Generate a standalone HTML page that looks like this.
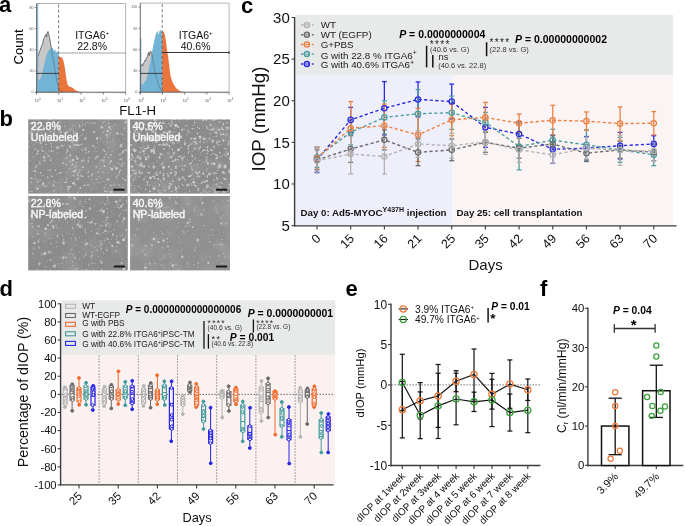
<!DOCTYPE html>
<html><head><meta charset="utf-8"><title>Figure</title>
<style>html,body{margin:0;padding:0;background:#fff;width:685px;height:526px;overflow:hidden}svg{display:block;font-family:"Liberation Sans", sans-serif;will-change:transform}</style>
</head><body><svg width="685" height="526" viewBox="0 0 685 526" font-family='"Liberation Sans", sans-serif'><text x="-1" y="12.3" font-size="22" font-weight="bold" fill="#000">a</text>
<text x="-0.4" y="126" font-size="22" font-weight="bold" fill="#000">b</text>
<text x="241" y="12.5" font-size="22" font-weight="bold" fill="#000">c</text>
<text x="-0.5" y="295.7" font-size="22" font-weight="bold" fill="#000">d</text>
<text x="345.5" y="296.3" font-size="22" font-weight="bold" fill="#000">e</text>
<text x="540" y="296" font-size="22" font-weight="bold" fill="#000">f</text>
<line x1="36.6" y1="3.5" x2="125.6" y2="3.5" stroke="#b5b5b5" stroke-width="1"/>
<line x1="125.6" y1="3.5" x2="125.6" y2="92.2" stroke="#b5b5b5" stroke-width="1"/>
<path d="M37.6 92 L37.6 56 L38.5 55.5 L39.2 52 L40 50.5 L40.8 48 L41.5 46.5 L42.2 44.5 L43 42.5 L43.7 38.5 L44.5 37.5 L45.2 36 L46 34.5 L46.5 37 L47.2 33 L48 31.5 L48.5 34 L49.2 36 L50 40 L50.8 45 L52 52 L53 58 L54 64 L55 70 L56 76 L57 82 L58 86 L59 88.5 L60.5 90.5 L62.5 92 Z" fill="#c8c8c8" stroke="#555" stroke-width="0.5"/>
<path d="M37.2 92 L37.2 3.8 L38.2 3.8 L38.3 81.3 L39.5 80 L40.5 78 L41.5 76 L42.5 72 L43.5 68 L44.5 63 L45.5 59 L46.5 55 L47.5 52.5 L48.3 50 L49 51 L49.7 48.5 L50.4 50 L51.2 47 L52 48.5 L52.8 47.5 L53.5 51 L54.2 49 L55 52 L55.8 50 L56.6 52.5 L57.4 51 L58.2 53.5 L58.7 52 L58.7 92 Z" fill="#72b3d6"/>
<path d="M58.7 92 L58.7 56.3 L60.5 57 L62 57.5 L63 59.5 L64 63 L65 69 L66.2 78 L67.5 84.5 L69 86.5 L71 87 L73 88 L75 90 L78 91.5 L81 92 Z" fill="#e9743c"/>
<path d="M37.6 56 L38.5 55.5 L39.2 52 L40 50.5 L40.8 48 L41.5 46.5 L42.2 44.5 L43 42.5 L43.7 38.5 L44.5 37.5 L45.2 36 L46 34.5 L46.5 37 L47.2 33 L48 31.5 L48.5 34 L49.2 36 L50 40 L50.8 45 L52 52 L53 58 L54 64 L55 70 L56 76 L57 82 L58 86 L59 88.5 L60.5 90.5 L62.5 92" fill="none" stroke="#444" stroke-width="0.5" opacity="0.75"/>
<line x1="36.6" y1="3.5" x2="36.6" y2="93.7" stroke="#555" stroke-width="0.9"/>
<line x1="35.6" y1="92.2" x2="125.6" y2="92.2" stroke="#555" stroke-width="0.9"/>
<line x1="34.6" y1="92.2" x2="36.6" y2="92.2" stroke="#555" stroke-width="0.6"/>
<text x="33.6" y="93.4" font-size="3.6" text-anchor="end" fill="#555">0</text>
<line x1="34.6" y1="71.03" x2="36.6" y2="71.03" stroke="#555" stroke-width="0.6"/>
<text x="33.6" y="72.23" font-size="3.6" text-anchor="end" fill="#555">20</text>
<line x1="34.6" y1="49.85" x2="36.6" y2="49.85" stroke="#555" stroke-width="0.6"/>
<text x="33.6" y="51.05" font-size="3.6" text-anchor="end" fill="#555">40</text>
<line x1="34.6" y1="28.67" x2="36.6" y2="28.67" stroke="#555" stroke-width="0.6"/>
<text x="33.6" y="29.87" font-size="3.6" text-anchor="end" fill="#555">60</text>
<line x1="34.6" y1="7.5" x2="36.6" y2="7.5" stroke="#555" stroke-width="0.6"/>
<text x="33.6" y="8.7" font-size="3.6" text-anchor="end" fill="#555">80</text>
<line x1="36.6" y1="92.2" x2="36.6" y2="94.7" stroke="#555" stroke-width="0.7"/>
<text x="37.6" y="102.4" font-size="3.8" text-anchor="middle" fill="#555">10<tspan dy="-2" font-size="3">0</tspan></text>
<line x1="43.3" y1="92.2" x2="43.3" y2="93.4" stroke="#777" stroke-width="0.4"/>
<line x1="47.21" y1="92.2" x2="47.21" y2="93.4" stroke="#777" stroke-width="0.4"/>
<line x1="49.99" y1="92.2" x2="49.99" y2="93.4" stroke="#777" stroke-width="0.4"/>
<line x1="52.15" y1="92.2" x2="52.15" y2="93.4" stroke="#777" stroke-width="0.4"/>
<line x1="53.91" y1="92.2" x2="53.91" y2="93.4" stroke="#777" stroke-width="0.4"/>
<line x1="55.4" y1="92.2" x2="55.4" y2="93.4" stroke="#777" stroke-width="0.4"/>
<line x1="56.69" y1="92.2" x2="56.69" y2="93.4" stroke="#777" stroke-width="0.4"/>
<line x1="57.83" y1="92.2" x2="57.83" y2="93.4" stroke="#777" stroke-width="0.4"/>
<line x1="58.85" y1="92.2" x2="58.85" y2="94.7" stroke="#555" stroke-width="0.7"/>
<text x="59.85" y="102.4" font-size="3.8" text-anchor="middle" fill="#555">10<tspan dy="-2" font-size="3">1</tspan></text>
<line x1="65.55" y1="92.2" x2="65.55" y2="93.4" stroke="#777" stroke-width="0.4"/>
<line x1="69.46" y1="92.2" x2="69.46" y2="93.4" stroke="#777" stroke-width="0.4"/>
<line x1="72.24" y1="92.2" x2="72.24" y2="93.4" stroke="#777" stroke-width="0.4"/>
<line x1="74.4" y1="92.2" x2="74.4" y2="93.4" stroke="#777" stroke-width="0.4"/>
<line x1="76.16" y1="92.2" x2="76.16" y2="93.4" stroke="#777" stroke-width="0.4"/>
<line x1="77.65" y1="92.2" x2="77.65" y2="93.4" stroke="#777" stroke-width="0.4"/>
<line x1="78.94" y1="92.2" x2="78.94" y2="93.4" stroke="#777" stroke-width="0.4"/>
<line x1="80.08" y1="92.2" x2="80.08" y2="93.4" stroke="#777" stroke-width="0.4"/>
<line x1="81.1" y1="92.2" x2="81.1" y2="94.7" stroke="#555" stroke-width="0.7"/>
<text x="82.1" y="102.4" font-size="3.8" text-anchor="middle" fill="#555">10<tspan dy="-2" font-size="3">2</tspan></text>
<line x1="87.8" y1="92.2" x2="87.8" y2="93.4" stroke="#777" stroke-width="0.4"/>
<line x1="91.71" y1="92.2" x2="91.71" y2="93.4" stroke="#777" stroke-width="0.4"/>
<line x1="94.49" y1="92.2" x2="94.49" y2="93.4" stroke="#777" stroke-width="0.4"/>
<line x1="96.65" y1="92.2" x2="96.65" y2="93.4" stroke="#777" stroke-width="0.4"/>
<line x1="98.41" y1="92.2" x2="98.41" y2="93.4" stroke="#777" stroke-width="0.4"/>
<line x1="99.9" y1="92.2" x2="99.9" y2="93.4" stroke="#777" stroke-width="0.4"/>
<line x1="101.19" y1="92.2" x2="101.19" y2="93.4" stroke="#777" stroke-width="0.4"/>
<line x1="102.33" y1="92.2" x2="102.33" y2="93.4" stroke="#777" stroke-width="0.4"/>
<line x1="103.35" y1="92.2" x2="103.35" y2="94.7" stroke="#555" stroke-width="0.7"/>
<text x="104.35" y="102.4" font-size="3.8" text-anchor="middle" fill="#555">10<tspan dy="-2" font-size="3">3</tspan></text>
<line x1="110.05" y1="92.2" x2="110.05" y2="93.4" stroke="#777" stroke-width="0.4"/>
<line x1="113.96" y1="92.2" x2="113.96" y2="93.4" stroke="#777" stroke-width="0.4"/>
<line x1="116.74" y1="92.2" x2="116.74" y2="93.4" stroke="#777" stroke-width="0.4"/>
<line x1="118.9" y1="92.2" x2="118.9" y2="93.4" stroke="#777" stroke-width="0.4"/>
<line x1="120.66" y1="92.2" x2="120.66" y2="93.4" stroke="#777" stroke-width="0.4"/>
<line x1="122.15" y1="92.2" x2="122.15" y2="93.4" stroke="#777" stroke-width="0.4"/>
<line x1="123.44" y1="92.2" x2="123.44" y2="93.4" stroke="#777" stroke-width="0.4"/>
<line x1="124.58" y1="92.2" x2="124.58" y2="93.4" stroke="#777" stroke-width="0.4"/>
<line x1="125.6" y1="92.2" x2="125.6" y2="94.7" stroke="#555" stroke-width="0.7"/>
<text x="126.6" y="102.4" font-size="3.8" text-anchor="middle" fill="#555">10<tspan dy="-2" font-size="3">4</tspan></text>
<line x1="58.6" y1="4.5" x2="58.6" y2="92.2" stroke="#555" stroke-width="0.8" stroke-dasharray="3 2.2"/>
<line x1="58.6" y1="53" x2="125.6" y2="53" stroke="#a3a3a3" stroke-width="1.2"/>
<line x1="125.6" y1="51.5" x2="125.6" y2="54.5" stroke="#a3a3a3" stroke-width="0.9"/>
<line x1="36.6" y1="73.4" x2="58.6" y2="73.4" stroke="#333" stroke-width="0.9"/>
<text x="92.1" y="39.4" font-size="10.5" text-anchor="middle" fill="#111">ITGA6<tspan dy="-4" font-size="6">+</tspan></text>
<text x="92.1" y="49.6" font-size="10.5" text-anchor="middle" fill="#111">22.8%</text>
<text x="23.3" y="47" font-size="13.2" text-anchor="middle" fill="#000" transform="rotate(-90 23.3 47)">Count</text>
<line x1="140.3" y1="3.1" x2="229.1" y2="3.1" stroke="#b5b5b5" stroke-width="1"/>
<line x1="229.1" y1="3.1" x2="229.1" y2="92.2" stroke="#b5b5b5" stroke-width="1"/>
<path d="M140.5 92 L140.5 67 L141.3 66 L142 64.5 L142.8 65.5 L143.5 63 L144.3 62.5 L145 60 L145.8 60.5 L146.5 58 L147.3 57 L148 54 L148.6 52.5 L149.3 55.5 L150 52 L150.8 51 L151.5 53.5 L152.2 55 L153 61 L154 67 L155 72 L156.5 78 L158 83 L159.5 87 L161 90 L163 92 Z" fill="#c8c8c8" stroke="#555" stroke-width="0.5"/>
<path d="M140.3 92 L140.3 38.5 L141.3 38.5 L141.4 84.8 L143 84 L145 81.5 L146.5 79 L148 73 L150 63 L152 52 L154 42 L156 33.5 L157.5 30.7 L158.5 35 L159.5 31 L160.3 29.5 L161.2 31.5 L162.2 32 L162.2 92 Z" fill="#72b3d6"/>
<path d="M162.2 92 L162.2 31 L163.5 31.4 L165 35 L166 42 L167 50 L168 56 L169 64 L170 72 L171 78 L172.5 82 L174 85 L176 88 L179 90.5 L182 91.8 L185 92 Z" fill="#e9743c"/>
<path d="M140.5 67 L141.3 66 L142 64.5 L142.8 65.5 L143.5 63 L144.3 62.5 L145 60 L145.8 60.5 L146.5 58 L147.3 57 L148 54 L148.6 52.5 L149.3 55.5 L150 52 L150.8 51 L151.5 53.5 L152.2 55 L153 61 L154 67 L155 72 L156.5 78 L158 83 L159.5 87 L161 90 L163 92" fill="none" stroke="#444" stroke-width="0.5" opacity="0.75"/>
<line x1="140.3" y1="3.1" x2="140.3" y2="93.7" stroke="#555" stroke-width="0.9"/>
<line x1="139.3" y1="92.2" x2="229.1" y2="92.2" stroke="#555" stroke-width="0.9"/>
<line x1="138.3" y1="92.2" x2="140.3" y2="92.2" stroke="#555" stroke-width="0.6"/>
<text x="137.3" y="93.4" font-size="3.6" text-anchor="end" fill="#555">0</text>
<line x1="138.3" y1="70.92" x2="140.3" y2="70.92" stroke="#555" stroke-width="0.6"/>
<text x="137.3" y="72.12" font-size="3.6" text-anchor="end" fill="#555">30</text>
<line x1="138.3" y1="49.65" x2="140.3" y2="49.65" stroke="#555" stroke-width="0.6"/>
<text x="137.3" y="50.85" font-size="3.6" text-anchor="end" fill="#555">60</text>
<line x1="138.3" y1="28.38" x2="140.3" y2="28.38" stroke="#555" stroke-width="0.6"/>
<text x="137.3" y="29.57" font-size="3.6" text-anchor="end" fill="#555">90</text>
<line x1="138.3" y1="7.1" x2="140.3" y2="7.1" stroke="#555" stroke-width="0.6"/>
<text x="137.3" y="8.3" font-size="3.6" text-anchor="end" fill="#555">120</text>
<line x1="140.3" y1="92.2" x2="140.3" y2="94.7" stroke="#555" stroke-width="0.7"/>
<text x="141.3" y="102.4" font-size="3.8" text-anchor="middle" fill="#555">10<tspan dy="-2" font-size="3">0</tspan></text>
<line x1="146.98" y1="92.2" x2="146.98" y2="93.4" stroke="#777" stroke-width="0.4"/>
<line x1="150.89" y1="92.2" x2="150.89" y2="93.4" stroke="#777" stroke-width="0.4"/>
<line x1="153.66" y1="92.2" x2="153.66" y2="93.4" stroke="#777" stroke-width="0.4"/>
<line x1="155.82" y1="92.2" x2="155.82" y2="93.4" stroke="#777" stroke-width="0.4"/>
<line x1="157.57" y1="92.2" x2="157.57" y2="93.4" stroke="#777" stroke-width="0.4"/>
<line x1="159.06" y1="92.2" x2="159.06" y2="93.4" stroke="#777" stroke-width="0.4"/>
<line x1="160.35" y1="92.2" x2="160.35" y2="93.4" stroke="#777" stroke-width="0.4"/>
<line x1="161.48" y1="92.2" x2="161.48" y2="93.4" stroke="#777" stroke-width="0.4"/>
<line x1="162.5" y1="92.2" x2="162.5" y2="94.7" stroke="#555" stroke-width="0.7"/>
<text x="163.5" y="102.4" font-size="3.8" text-anchor="middle" fill="#555">10<tspan dy="-2" font-size="3">1</tspan></text>
<line x1="169.18" y1="92.2" x2="169.18" y2="93.4" stroke="#777" stroke-width="0.4"/>
<line x1="173.09" y1="92.2" x2="173.09" y2="93.4" stroke="#777" stroke-width="0.4"/>
<line x1="175.86" y1="92.2" x2="175.86" y2="93.4" stroke="#777" stroke-width="0.4"/>
<line x1="178.02" y1="92.2" x2="178.02" y2="93.4" stroke="#777" stroke-width="0.4"/>
<line x1="179.77" y1="92.2" x2="179.77" y2="93.4" stroke="#777" stroke-width="0.4"/>
<line x1="181.26" y1="92.2" x2="181.26" y2="93.4" stroke="#777" stroke-width="0.4"/>
<line x1="182.55" y1="92.2" x2="182.55" y2="93.4" stroke="#777" stroke-width="0.4"/>
<line x1="183.68" y1="92.2" x2="183.68" y2="93.4" stroke="#777" stroke-width="0.4"/>
<line x1="184.7" y1="92.2" x2="184.7" y2="94.7" stroke="#555" stroke-width="0.7"/>
<text x="185.7" y="102.4" font-size="3.8" text-anchor="middle" fill="#555">10<tspan dy="-2" font-size="3">2</tspan></text>
<line x1="191.38" y1="92.2" x2="191.38" y2="93.4" stroke="#777" stroke-width="0.4"/>
<line x1="195.29" y1="92.2" x2="195.29" y2="93.4" stroke="#777" stroke-width="0.4"/>
<line x1="198.06" y1="92.2" x2="198.06" y2="93.4" stroke="#777" stroke-width="0.4"/>
<line x1="200.22" y1="92.2" x2="200.22" y2="93.4" stroke="#777" stroke-width="0.4"/>
<line x1="201.97" y1="92.2" x2="201.97" y2="93.4" stroke="#777" stroke-width="0.4"/>
<line x1="203.46" y1="92.2" x2="203.46" y2="93.4" stroke="#777" stroke-width="0.4"/>
<line x1="204.75" y1="92.2" x2="204.75" y2="93.4" stroke="#777" stroke-width="0.4"/>
<line x1="205.88" y1="92.2" x2="205.88" y2="93.4" stroke="#777" stroke-width="0.4"/>
<line x1="206.9" y1="92.2" x2="206.9" y2="94.7" stroke="#555" stroke-width="0.7"/>
<text x="207.9" y="102.4" font-size="3.8" text-anchor="middle" fill="#555">10<tspan dy="-2" font-size="3">3</tspan></text>
<line x1="213.58" y1="92.2" x2="213.58" y2="93.4" stroke="#777" stroke-width="0.4"/>
<line x1="217.49" y1="92.2" x2="217.49" y2="93.4" stroke="#777" stroke-width="0.4"/>
<line x1="220.26" y1="92.2" x2="220.26" y2="93.4" stroke="#777" stroke-width="0.4"/>
<line x1="222.42" y1="92.2" x2="222.42" y2="93.4" stroke="#777" stroke-width="0.4"/>
<line x1="224.17" y1="92.2" x2="224.17" y2="93.4" stroke="#777" stroke-width="0.4"/>
<line x1="225.66" y1="92.2" x2="225.66" y2="93.4" stroke="#777" stroke-width="0.4"/>
<line x1="226.95" y1="92.2" x2="226.95" y2="93.4" stroke="#777" stroke-width="0.4"/>
<line x1="228.08" y1="92.2" x2="228.08" y2="93.4" stroke="#777" stroke-width="0.4"/>
<line x1="229.1" y1="92.2" x2="229.1" y2="94.7" stroke="#555" stroke-width="0.7"/>
<text x="230.1" y="102.4" font-size="3.8" text-anchor="middle" fill="#555">10<tspan dy="-2" font-size="3">4</tspan></text>
<line x1="162.2" y1="4.1" x2="162.2" y2="92.2" stroke="#555" stroke-width="0.8" stroke-dasharray="3 2.2"/>
<line x1="162.2" y1="52.5" x2="229.1" y2="52.5" stroke="#333" stroke-width="1.2"/>
<line x1="229.1" y1="51" x2="229.1" y2="54" stroke="#333" stroke-width="0.9"/>
<line x1="140.3" y1="73.4" x2="162.2" y2="73.4" stroke="#333" stroke-width="0.9"/>
<text x="195.65" y="39.4" font-size="10.5" text-anchor="middle" fill="#111">ITGA6<tspan dy="-4" font-size="6">+</tspan></text>
<text x="195.65" y="49.6" font-size="10.5" text-anchor="middle" fill="#111">40.6%</text>
<text x="137.6" y="114.6" font-size="13.2" text-anchor="middle" fill="#111">FL1-H</text>
<defs><filter id="blr" x="-5%" y="-5%" width="110%" height="110%"><feGaussianBlur stdDeviation="0.5"/></filter><filter id="spk0" x="0" y="0" width="100%" height="100%" color-interpolation-filters="sRGB"><feTurbulence type="fractalNoise" baseFrequency="0.32" numOctaves="2" seed="5"/><feColorMatrix type="matrix" values="0 0 0 0 1  0 0 0 0 1  0 0 0 0 1  9 0 0 0 -5.8"/><feGaussianBlur stdDeviation="0.4"/></filter><filter id="cl0" x="0" y="0" width="100%" height="100%" color-interpolation-filters="sRGB"><feTurbulence type="fractalNoise" baseFrequency="0.05" numOctaves="2" seed="8"/><feColorMatrix type="matrix" values="0 0 0 0 1  0 0 0 0 1  0 0 0 0 1  2.2 0 0 0 -1.0"/></filter><filter id="spk1" x="0" y="0" width="100%" height="100%" color-interpolation-filters="sRGB"><feTurbulence type="fractalNoise" baseFrequency="0.32" numOctaves="2" seed="17"/><feColorMatrix type="matrix" values="0 0 0 0 1  0 0 0 0 1  0 0 0 0 1  9 0 0 0 -5.5"/><feGaussianBlur stdDeviation="0.4"/></filter><filter id="cl1" x="0" y="0" width="100%" height="100%" color-interpolation-filters="sRGB"><feTurbulence type="fractalNoise" baseFrequency="0.05" numOctaves="2" seed="20"/><feColorMatrix type="matrix" values="0 0 0 0 1  0 0 0 0 1  0 0 0 0 1  2.2 0 0 0 -1.0"/></filter><filter id="spk2" x="0" y="0" width="100%" height="100%" color-interpolation-filters="sRGB"><feTurbulence type="fractalNoise" baseFrequency="0.32" numOctaves="2" seed="29"/><feColorMatrix type="matrix" values="0 0 0 0 1  0 0 0 0 1  0 0 0 0 1  9 0 0 0 -5.9"/><feGaussianBlur stdDeviation="0.4"/></filter><filter id="cl2" x="0" y="0" width="100%" height="100%" color-interpolation-filters="sRGB"><feTurbulence type="fractalNoise" baseFrequency="0.05" numOctaves="2" seed="32"/><feColorMatrix type="matrix" values="0 0 0 0 1  0 0 0 0 1  0 0 0 0 1  2.2 0 0 0 -1.0"/></filter><filter id="spk3" x="0" y="0" width="100%" height="100%" color-interpolation-filters="sRGB"><feTurbulence type="fractalNoise" baseFrequency="0.32" numOctaves="2" seed="41"/><feColorMatrix type="matrix" values="0 0 0 0 1  0 0 0 0 1  0 0 0 0 1  9 0 0 0 -6.4"/><feGaussianBlur stdDeviation="0.4"/></filter><filter id="cl3" x="0" y="0" width="100%" height="100%" color-interpolation-filters="sRGB"><feTurbulence type="fractalNoise" baseFrequency="0.05" numOctaves="2" seed="44"/><feColorMatrix type="matrix" values="0 0 0 0 1  0 0 0 0 1  0 0 0 0 1  2.2 0 0 0 -1.0"/></filter></defs>
<rect x="28.2" y="119.4" width="99.3" height="74.2" fill="#8d8d8d"/>
<rect x="28.2" y="119.4" width="99.3" height="74.2" fill="#fff" filter="url(#cl0)" opacity="0.12"/>
<rect x="28.2" y="119.4" width="99.3" height="74.2" fill="#fff" filter="url(#spk0)" opacity="0.45"/>
<g filter="url(#blr)"><circle cx="60.71" cy="131.29" r="1.12" fill="#b4b4b4"/><circle cx="109.11" cy="127.2" r="1.07" fill="#d0d0d0"/><circle cx="50.09" cy="126.61" r="0.93" fill="#c0c0c0"/><circle cx="38.03" cy="151.05" r="1.26" fill="#b4b4b4"/><circle cx="121.39" cy="165.93" r="1.07" fill="#b4b4b4"/><circle cx="85.35" cy="149.04" r="1.38" fill="#b4b4b4"/><circle cx="83.36" cy="130.02" r="0.94" fill="#d0d0d0"/><circle cx="40.66" cy="142.67" r="1.25" fill="#c0c0c0"/><circle cx="39.23" cy="161.64" r="0.75" fill="#b4b4b4"/><circle cx="82.5" cy="124.93" r="0.65" fill="#c0c0c0"/><circle cx="77.5" cy="158.79" r="1.22" fill="#c8c8c8"/><circle cx="86.18" cy="153.12" r="0.84" fill="#c0c0c0"/><circle cx="97.21" cy="138.02" r="1.06" fill="#d0d0d0"/><circle cx="77.37" cy="145.2" r="0.96" fill="#d0d0d0"/><circle cx="124.57" cy="128.92" r="0.93" fill="#aaaaaa"/><circle cx="43.99" cy="155.7" r="0.63" fill="#b4b4b4"/><circle cx="103.59" cy="161.77" r="1.3" fill="#aaaaaa"/><circle cx="62.29" cy="145.68" r="1" fill="#c8c8c8"/><circle cx="35.89" cy="127.16" r="0.82" fill="#b4b4b4"/><circle cx="35.1" cy="171.05" r="1.12" fill="#c8c8c8"/><circle cx="56.89" cy="148.25" r="1.13" fill="#b4b4b4"/><circle cx="120.73" cy="146.06" r="1.09" fill="#c8c8c8"/><circle cx="34.94" cy="175.87" r="0.7" fill="#c0c0c0"/><circle cx="67.92" cy="186.59" r="1" fill="#c0c0c0"/><circle cx="72.91" cy="160.07" r="1.31" fill="#c8c8c8"/><circle cx="113.27" cy="140.5" r="0.93" fill="#aaaaaa"/><circle cx="95.63" cy="147.87" r="0.78" fill="#b4b4b4"/><circle cx="46.35" cy="137.15" r="0.79" fill="#c8c8c8"/><circle cx="110.07" cy="133.57" r="0.83" fill="#c0c0c0"/><circle cx="69.96" cy="147.06" r="1.05" fill="#c0c0c0"/><circle cx="96.39" cy="157.62" r="1.09" fill="#b4b4b4"/><circle cx="73.63" cy="183.28" r="1.36" fill="#d0d0d0"/><circle cx="67.38" cy="149.21" r="0.68" fill="#c8c8c8"/><circle cx="35.26" cy="125.26" r="0.77" fill="#c0c0c0"/><circle cx="39.9" cy="163.77" r="0.68" fill="#d0d0d0"/><circle cx="43.92" cy="127.73" r="0.89" fill="#b4b4b4"/><circle cx="36.04" cy="135.41" r="0.9" fill="#aaaaaa"/><circle cx="122.17" cy="163.88" r="0.98" fill="#b4b4b4"/><circle cx="111.8" cy="192.1" r="0.97" fill="#c8c8c8"/><circle cx="59.54" cy="130.81" r="1.2" fill="#aaaaaa"/><circle cx="75.77" cy="170.37" r="1.01" fill="#c0c0c0"/><circle cx="121.73" cy="158.54" r="0.72" fill="#d0d0d0"/><circle cx="118.15" cy="175.14" r="0.84" fill="#b4b4b4"/><circle cx="96.94" cy="139.25" r="0.89" fill="#c0c0c0"/><circle cx="63.81" cy="136.49" r="1.03" fill="#d0d0d0"/><circle cx="61.28" cy="136.5" r="1.25" fill="#c0c0c0"/><circle cx="107.63" cy="179.48" r="1.19" fill="#c0c0c0"/><circle cx="48.65" cy="155.98" r="1.18" fill="#b4b4b4"/><circle cx="106.08" cy="154.5" r="0.75" fill="#d0d0d0"/><circle cx="122.27" cy="152.69" r="1.35" fill="#aaaaaa"/><circle cx="122.12" cy="146.73" r="0.78" fill="#c0c0c0"/><circle cx="74.94" cy="144.78" r="0.99" fill="#d0d0d0"/><circle cx="110.97" cy="155.02" r="1.12" fill="#b4b4b4"/><circle cx="110.41" cy="129.06" r="0.91" fill="#c0c0c0"/><circle cx="75.71" cy="133.29" r="1.23" fill="#aaaaaa"/><circle cx="37.64" cy="188.71" r="1.18" fill="#c8c8c8"/><circle cx="68.25" cy="188.76" r="1.18" fill="#c0c0c0"/><circle cx="125.83" cy="122.39" r="1.07" fill="#c8c8c8"/><circle cx="107.67" cy="130.95" r="1.26" fill="#c8c8c8"/><circle cx="93.15" cy="145.7" r="1.04" fill="#c0c0c0"/><circle cx="31.28" cy="178.11" r="1.18" fill="#b4b4b4"/><circle cx="80.44" cy="187.81" r="0.95" fill="#c0c0c0"/><circle cx="109.58" cy="135.64" r="0.8" fill="#aaaaaa"/><circle cx="77.96" cy="175.54" r="0.86" fill="#d0d0d0"/><circle cx="69.97" cy="129.86" r="1.33" fill="#aaaaaa"/><circle cx="116.55" cy="168.23" r="1.25" fill="#d0d0d0"/><circle cx="70.13" cy="186.66" r="1" fill="#d0d0d0"/><circle cx="43.97" cy="157.26" r="1.3" fill="#c0c0c0"/><circle cx="88.41" cy="176.43" r="0.72" fill="#c0c0c0"/><circle cx="75.27" cy="172.76" r="1.05" fill="#aaaaaa"/><circle cx="95.59" cy="158.72" r="0.99" fill="#b4b4b4"/><circle cx="115.14" cy="124.5" r="0.75" fill="#b4b4b4"/><circle cx="104.34" cy="157.06" r="1.05" fill="#b4b4b4"/><circle cx="72.33" cy="164.62" r="1" fill="#d0d0d0"/><circle cx="48.6" cy="140.41" r="1.01" fill="#c8c8c8"/><circle cx="78.6" cy="138.28" r="1.02" fill="#aaaaaa"/><circle cx="118.99" cy="184.86" r="0.76" fill="#c8c8c8"/><circle cx="42.54" cy="129.18" r="0.95" fill="#b4b4b4"/><circle cx="94.5" cy="151.33" r="0.77" fill="#aaaaaa"/><circle cx="105.48" cy="185.17" r="0.72" fill="#aaaaaa"/><circle cx="43.11" cy="184.14" r="1.37" fill="#c0c0c0"/><circle cx="101.85" cy="127.2" r="1.31" fill="#c0c0c0"/><circle cx="125.51" cy="180.5" r="0.73" fill="#c8c8c8"/><circle cx="125.92" cy="149.56" r="0.94" fill="#aaaaaa"/><circle cx="60.19" cy="172.54" r="0.62" fill="#d0d0d0"/><circle cx="73.83" cy="171.17" r="0.91" fill="#d0d0d0"/><circle cx="89.91" cy="157.39" r="0.65" fill="#c0c0c0"/><circle cx="123.75" cy="127.97" r="0.81" fill="#b4b4b4"/><circle cx="117.34" cy="133.51" r="1.2" fill="#c8c8c8"/><circle cx="111.86" cy="169.21" r="1.36" fill="#c8c8c8"/><line x1="44.14" y1="184.09" x2="43.34" y2="187.6" stroke="#acacac" stroke-width="0.8"/><line x1="38.55" y1="125.32" x2="37" y2="127.63" stroke="#acacac" stroke-width="0.8"/><line x1="36.96" y1="185.4" x2="35.36" y2="188.96" stroke="#acacac" stroke-width="0.8"/><line x1="38.01" y1="179.79" x2="42.01" y2="180.64" stroke="#acacac" stroke-width="0.8"/><line x1="72.54" y1="144.53" x2="71.83" y2="148.75" stroke="#acacac" stroke-width="0.8"/><line x1="55.19" y1="130.21" x2="55" y2="132.42" stroke="#acacac" stroke-width="0.8"/><line x1="40.41" y1="132.41" x2="42.49" y2="132.74" stroke="#acacac" stroke-width="0.8"/><line x1="59.31" y1="142.2" x2="57.58" y2="143.83" stroke="#acacac" stroke-width="0.8"/><line x1="76.86" y1="133.53" x2="77.58" y2="134.91" stroke="#acacac" stroke-width="0.8"/><line x1="53.57" y1="122.45" x2="51.46" y2="124.79" stroke="#acacac" stroke-width="0.8"/><line x1="47.88" y1="153.78" x2="46.1" y2="154.15" stroke="#acacac" stroke-width="0.8"/><line x1="106.61" y1="150.87" x2="106.67" y2="154.88" stroke="#acacac" stroke-width="0.8"/><line x1="66.87" y1="155.96" x2="64.4" y2="159.65" stroke="#acacac" stroke-width="0.8"/><line x1="62.17" y1="178.16" x2="60.11" y2="180.88" stroke="#acacac" stroke-width="0.8"/><line x1="67.96" y1="145.1" x2="69.82" y2="145.42" stroke="#acacac" stroke-width="0.8"/><line x1="36.8" y1="171.93" x2="38.18" y2="173.36" stroke="#acacac" stroke-width="0.8"/><line x1="38.08" y1="178.77" x2="34.86" y2="180.16" stroke="#acacac" stroke-width="0.8"/><line x1="56.5" y1="137.92" x2="58.25" y2="140.21" stroke="#acacac" stroke-width="0.8"/><line x1="44.9" y1="151.81" x2="47.87" y2="155.03" stroke="#acacac" stroke-width="0.8"/><line x1="120.95" y1="158.71" x2="124.11" y2="161.76" stroke="#acacac" stroke-width="0.8"/><line x1="59.08" y1="145.72" x2="61.73" y2="145.73" stroke="#acacac" stroke-width="0.8"/><line x1="74.48" y1="155.69" x2="76.92" y2="157.47" stroke="#acacac" stroke-width="0.8"/><line x1="30.66" y1="139.42" x2="33.25" y2="140.17" stroke="#acacac" stroke-width="0.8"/><line x1="34.09" y1="122.93" x2="35.36" y2="124.73" stroke="#acacac" stroke-width="0.8"/><line x1="84.83" y1="157.49" x2="82.38" y2="159.94" stroke="#acacac" stroke-width="0.8"/><line x1="97" y1="181.35" x2="97.85" y2="183.68" stroke="#acacac" stroke-width="0.8"/><line x1="122.08" y1="131.59" x2="119.85" y2="134.21" stroke="#acacac" stroke-width="0.8"/><line x1="34.29" y1="178.37" x2="31.1" y2="179.49" stroke="#acacac" stroke-width="0.8"/><line x1="98.67" y1="176.79" x2="101.45" y2="178.09" stroke="#acacac" stroke-width="0.8"/><line x1="77.26" y1="178.34" x2="74" y2="180.63" stroke="#acacac" stroke-width="0.8"/></g>
<text x="30.8" y="129.9" font-size="10.6" fill="#fcfcfc" stroke="#f4f4f4" stroke-width="0.4">22.8%</text>
<text x="30.8" y="141" font-size="10.6" fill="#fcfcfc" stroke="#f4f4f4" stroke-width="0.4">Unlabeled</text>
<rect x="113.4" y="188.7" width="11.2" height="2" fill="#1a1a1a"/>
<rect x="130.1" y="119.4" width="99.9" height="74.2" fill="#8b8b8b"/>
<rect x="130.1" y="119.4" width="99.9" height="74.2" fill="#fff" filter="url(#cl1)" opacity="0.12"/>
<rect x="130.1" y="119.4" width="99.9" height="74.2" fill="#fff" filter="url(#spk1)" opacity="0.5"/>
<g filter="url(#blr)"><circle cx="188.28" cy="184.86" r="1.35" fill="#c0c0c0"/><circle cx="139.43" cy="123.42" r="1.3" fill="#b4b4b4"/><circle cx="167.97" cy="152.99" r="0.66" fill="#b4b4b4"/><circle cx="192.41" cy="169.54" r="1.14" fill="#b4b4b4"/><circle cx="175.84" cy="125.46" r="1.63" fill="#d0d0d0"/><circle cx="140.1" cy="158.38" r="1.42" fill="#c8c8c8"/><circle cx="155.79" cy="125.78" r="0.89" fill="#c0c0c0"/><circle cx="153.69" cy="167.33" r="1.11" fill="#c8c8c8"/><circle cx="138.61" cy="186.14" r="0.92" fill="#b4b4b4"/><circle cx="191.5" cy="166.81" r="0.69" fill="#c0c0c0"/><circle cx="163.58" cy="167.44" r="1.36" fill="#d0d0d0"/><circle cx="186.68" cy="121.3" r="0.67" fill="#aaaaaa"/><circle cx="226.31" cy="127.59" r="0.84" fill="#c8c8c8"/><circle cx="159.57" cy="157.69" r="1.11" fill="#c8c8c8"/><circle cx="206.21" cy="192.12" r="1.2" fill="#aaaaaa"/><circle cx="226.86" cy="188" r="0.62" fill="#c8c8c8"/><circle cx="138.59" cy="156.98" r="1.69" fill="#aaaaaa"/><circle cx="168.97" cy="186.58" r="1.62" fill="#b4b4b4"/><circle cx="188.03" cy="130.63" r="1.18" fill="#aaaaaa"/><circle cx="144.08" cy="179.62" r="1.16" fill="#b4b4b4"/><circle cx="199.96" cy="137.11" r="1.59" fill="#c8c8c8"/><circle cx="169.68" cy="131.88" r="1.64" fill="#c8c8c8"/><circle cx="170.79" cy="172.9" r="1.06" fill="#c8c8c8"/><circle cx="162.04" cy="181.06" r="0.6" fill="#aaaaaa"/><circle cx="213.25" cy="129.07" r="1.62" fill="#b4b4b4"/><circle cx="219.36" cy="141.33" r="1.01" fill="#c8c8c8"/><circle cx="169.3" cy="183.21" r="0.68" fill="#c8c8c8"/><circle cx="205.08" cy="182.08" r="0.91" fill="#b4b4b4"/><circle cx="212.81" cy="141.02" r="1.63" fill="#c0c0c0"/><circle cx="226.16" cy="151.9" r="0.95" fill="#aaaaaa"/><circle cx="207.97" cy="151.28" r="0.63" fill="#c8c8c8"/><circle cx="220.52" cy="188.32" r="1.2" fill="#b4b4b4"/><circle cx="135.94" cy="173.28" r="1.1" fill="#c0c0c0"/><circle cx="194.2" cy="141.06" r="0.65" fill="#d0d0d0"/><circle cx="143.56" cy="154.49" r="0.98" fill="#aaaaaa"/><circle cx="156.14" cy="173.74" r="1.32" fill="#c8c8c8"/><circle cx="195.32" cy="142.12" r="1.21" fill="#c8c8c8"/><circle cx="142.82" cy="166.84" r="0.68" fill="#d0d0d0"/><circle cx="219.79" cy="156.29" r="0.84" fill="#aaaaaa"/><circle cx="228.65" cy="152.89" r="0.75" fill="#c0c0c0"/><circle cx="155" cy="133.01" r="1.21" fill="#aaaaaa"/><circle cx="154.51" cy="139.05" r="1.23" fill="#b4b4b4"/><circle cx="204.49" cy="150.2" r="1.06" fill="#d0d0d0"/><circle cx="151.66" cy="139.91" r="1.43" fill="#c8c8c8"/><circle cx="158.27" cy="190.27" r="0.74" fill="#d0d0d0"/><circle cx="182.91" cy="177.46" r="1.53" fill="#b4b4b4"/><circle cx="157.63" cy="138.34" r="1.04" fill="#c8c8c8"/><circle cx="173.38" cy="142.93" r="1.5" fill="#b4b4b4"/><circle cx="143.56" cy="151.1" r="1.44" fill="#c8c8c8"/><circle cx="225.89" cy="155.77" r="0.68" fill="#d0d0d0"/><circle cx="214.85" cy="190.6" r="0.87" fill="#b4b4b4"/><circle cx="153.01" cy="131.38" r="1.67" fill="#b4b4b4"/><circle cx="223.27" cy="172.51" r="1.31" fill="#c8c8c8"/><circle cx="139.42" cy="176.49" r="0.6" fill="#c0c0c0"/><circle cx="153.87" cy="186.82" r="1.31" fill="#aaaaaa"/><circle cx="225.32" cy="165.63" r="1.18" fill="#c8c8c8"/><circle cx="199.49" cy="128.5" r="0.68" fill="#d0d0d0"/><circle cx="223.47" cy="134.24" r="0.89" fill="#d0d0d0"/><circle cx="131.21" cy="159.21" r="1.7" fill="#aaaaaa"/><circle cx="224.98" cy="166.94" r="1.57" fill="#c8c8c8"/><circle cx="182.62" cy="159.89" r="0.63" fill="#c8c8c8"/><circle cx="200.09" cy="142.59" r="0.62" fill="#c8c8c8"/><circle cx="217.73" cy="167.13" r="0.69" fill="#c0c0c0"/><circle cx="196.43" cy="187.2" r="0.85" fill="#b4b4b4"/><circle cx="199.22" cy="172.26" r="1" fill="#c8c8c8"/><circle cx="150.49" cy="177.95" r="1.41" fill="#d0d0d0"/><circle cx="137.7" cy="156.19" r="0.82" fill="#c0c0c0"/><circle cx="153.7" cy="136.39" r="1.44" fill="#aaaaaa"/><circle cx="141.77" cy="165.42" r="1.27" fill="#c0c0c0"/><circle cx="178.59" cy="186.13" r="0.66" fill="#d0d0d0"/><circle cx="145.43" cy="148.81" r="0.83" fill="#d0d0d0"/><circle cx="144.99" cy="124.14" r="0.67" fill="#c8c8c8"/><circle cx="175.12" cy="171.81" r="0.95" fill="#b4b4b4"/><circle cx="228.76" cy="187.66" r="0.96" fill="#c0c0c0"/><circle cx="194.98" cy="158.29" r="1.11" fill="#aaaaaa"/><circle cx="196.15" cy="147.74" r="1.01" fill="#aaaaaa"/><circle cx="174.41" cy="128.27" r="0.69" fill="#b4b4b4"/><circle cx="165.51" cy="189.39" r="0.74" fill="#c0c0c0"/><circle cx="168.31" cy="175.9" r="0.94" fill="#c8c8c8"/><circle cx="139.69" cy="171.32" r="0.82" fill="#d0d0d0"/><circle cx="221.12" cy="134.34" r="1" fill="#c8c8c8"/><circle cx="134.06" cy="150.06" r="1.49" fill="#c8c8c8"/><circle cx="135.08" cy="122.92" r="0.67" fill="#b4b4b4"/><circle cx="156.26" cy="174.35" r="1.59" fill="#aaaaaa"/><circle cx="166.64" cy="144.58" r="1.65" fill="#b4b4b4"/><circle cx="156.77" cy="172.14" r="0.95" fill="#aaaaaa"/><circle cx="160.22" cy="172.5" r="1.26" fill="#b4b4b4"/><circle cx="133.47" cy="137.29" r="1.12" fill="#c8c8c8"/><circle cx="224.49" cy="148.31" r="0.88" fill="#c8c8c8"/><circle cx="210.87" cy="129.98" r="1.15" fill="#b4b4b4"/><circle cx="209.67" cy="173.72" r="1.51" fill="#c0c0c0"/><circle cx="190.55" cy="144.07" r="0.95" fill="#aaaaaa"/><circle cx="207.84" cy="163.41" r="1.16" fill="#c8c8c8"/><circle cx="204.81" cy="138.26" r="0.67" fill="#b4b4b4"/><circle cx="178.26" cy="159.72" r="0.78" fill="#c8c8c8"/><circle cx="217.59" cy="191.72" r="0.89" fill="#b4b4b4"/><circle cx="151.5" cy="150.8" r="1.69" fill="#c8c8c8"/><circle cx="148.06" cy="130" r="1.11" fill="#c0c0c0"/><circle cx="204.33" cy="181.55" r="1.33" fill="#b4b4b4"/><circle cx="207.44" cy="141.62" r="0.91" fill="#aaaaaa"/><circle cx="167.61" cy="173.69" r="0.82" fill="#c0c0c0"/><circle cx="149.28" cy="137.4" r="0.91" fill="#d0d0d0"/><circle cx="149.53" cy="125.08" r="0.88" fill="#c0c0c0"/><circle cx="180.77" cy="137.11" r="1.49" fill="#c8c8c8"/><circle cx="228.11" cy="127.79" r="1.12" fill="#c0c0c0"/><circle cx="213.39" cy="186.42" r="0.64" fill="#aaaaaa"/><circle cx="153.9" cy="124.04" r="1.26" fill="#d0d0d0"/><circle cx="150.11" cy="125.82" r="1.16" fill="#c0c0c0"/><circle cx="175.07" cy="139.17" r="1.46" fill="#b4b4b4"/><circle cx="141.46" cy="163.44" r="1.28" fill="#c0c0c0"/><circle cx="134.77" cy="144.95" r="0.65" fill="#aaaaaa"/><circle cx="134.84" cy="173.27" r="1.61" fill="#b4b4b4"/><circle cx="211.26" cy="149.93" r="1.01" fill="#d0d0d0"/><circle cx="161.66" cy="135.09" r="1.47" fill="#d0d0d0"/><circle cx="178.44" cy="149.87" r="1.48" fill="#d0d0d0"/><circle cx="146.23" cy="158.95" r="1.32" fill="#c8c8c8"/><circle cx="199.18" cy="149.99" r="0.91" fill="#aaaaaa"/><circle cx="172.01" cy="124.11" r="1.42" fill="#aaaaaa"/><circle cx="171.64" cy="121.71" r="1.44" fill="#aaaaaa"/><circle cx="194.19" cy="148.61" r="1.05" fill="#b4b4b4"/><circle cx="173.6" cy="131.7" r="0.72" fill="#b4b4b4"/><circle cx="170.87" cy="184.14" r="1.11" fill="#c0c0c0"/><circle cx="143.82" cy="124.13" r="0.76" fill="#c8c8c8"/><circle cx="139.82" cy="165.32" r="1.01" fill="#d0d0d0"/><circle cx="147.91" cy="145.52" r="0.78" fill="#c0c0c0"/><circle cx="221.71" cy="128.25" r="1.14" fill="#c0c0c0"/><circle cx="160.63" cy="180.85" r="0.65" fill="#c8c8c8"/><circle cx="161.89" cy="164.27" r="1.3" fill="#b4b4b4"/><circle cx="219.62" cy="165.19" r="1.51" fill="#c0c0c0"/><circle cx="193.79" cy="182.25" r="1.28" fill="#d0d0d0"/><circle cx="213.96" cy="180.27" r="0.8" fill="#c0c0c0"/><circle cx="135.18" cy="188.16" r="0.77" fill="#aaaaaa"/><circle cx="143.15" cy="138.24" r="1.4" fill="#c0c0c0"/><circle cx="135.12" cy="161" r="1.43" fill="#b4b4b4"/><circle cx="196.49" cy="143.81" r="1.03" fill="#c8c8c8"/><circle cx="184.95" cy="165.67" r="0.94" fill="#c8c8c8"/><circle cx="161.27" cy="138.4" r="1.03" fill="#aaaaaa"/><circle cx="174.84" cy="152.05" r="0.63" fill="#d0d0d0"/><circle cx="227.64" cy="153.99" r="1.09" fill="#d0d0d0"/><circle cx="207.46" cy="153.49" r="0.8" fill="#c8c8c8"/><circle cx="170.29" cy="125.25" r="0.99" fill="#aaaaaa"/><circle cx="140.08" cy="152.31" r="1.16" fill="#b4b4b4"/><circle cx="135.08" cy="129.81" r="1.61" fill="#aaaaaa"/><circle cx="207.23" cy="157.33" r="0.66" fill="#d0d0d0"/><circle cx="218.71" cy="167.53" r="1.46" fill="#b4b4b4"/><circle cx="215.01" cy="192.32" r="1.41" fill="#b4b4b4"/><circle cx="150.06" cy="191.28" r="1.14" fill="#c0c0c0"/><circle cx="198.27" cy="172.46" r="0.84" fill="#aaaaaa"/><circle cx="190.86" cy="138.61" r="0.96" fill="#d0d0d0"/><circle cx="158.02" cy="179.29" r="0.76" fill="#d0d0d0"/><line x1="222.65" y1="154.14" x2="221.7" y2="157.35" stroke="#acacac" stroke-width="0.8"/><line x1="154.39" y1="146.79" x2="156.59" y2="148.37" stroke="#acacac" stroke-width="0.8"/><line x1="191.87" y1="140.37" x2="193.23" y2="142.63" stroke="#acacac" stroke-width="0.8"/><line x1="206.48" y1="139.43" x2="205.25" y2="140.52" stroke="#acacac" stroke-width="0.8"/><line x1="212.69" y1="187.29" x2="213.14" y2="190.32" stroke="#acacac" stroke-width="0.8"/><line x1="196.77" y1="182.51" x2="198.95" y2="184.73" stroke="#acacac" stroke-width="0.8"/><line x1="212.53" y1="171.73" x2="213.57" y2="174.14" stroke="#acacac" stroke-width="0.8"/><line x1="166.74" y1="131.37" x2="167.63" y2="132.87" stroke="#acacac" stroke-width="0.8"/><line x1="153.7" y1="163.37" x2="151.33" y2="163.68" stroke="#acacac" stroke-width="0.8"/><line x1="180.56" y1="142.55" x2="176.48" y2="142.99" stroke="#acacac" stroke-width="0.8"/><line x1="219.28" y1="182.49" x2="216.78" y2="185.27" stroke="#acacac" stroke-width="0.8"/><line x1="152.91" y1="141.24" x2="151.85" y2="143.79" stroke="#acacac" stroke-width="0.8"/><line x1="166.29" y1="124.66" x2="166.41" y2="127.99" stroke="#acacac" stroke-width="0.8"/><line x1="136.38" y1="125.11" x2="135.88" y2="127.47" stroke="#acacac" stroke-width="0.8"/><line x1="181.22" y1="157.83" x2="181.87" y2="160.14" stroke="#acacac" stroke-width="0.8"/><line x1="144.66" y1="146.38" x2="142.96" y2="147.39" stroke="#acacac" stroke-width="0.8"/><line x1="133.43" y1="176.06" x2="131.69" y2="178.33" stroke="#acacac" stroke-width="0.8"/><line x1="138.08" y1="131.27" x2="136.93" y2="133.27" stroke="#acacac" stroke-width="0.8"/><line x1="208.31" y1="187.36" x2="212.21" y2="188.05" stroke="#acacac" stroke-width="0.8"/><line x1="215.92" y1="161.96" x2="215.12" y2="165.17" stroke="#acacac" stroke-width="0.8"/><line x1="180.7" y1="155.01" x2="182" y2="155.76" stroke="#acacac" stroke-width="0.8"/><line x1="137.88" y1="123.12" x2="139.53" y2="124.21" stroke="#acacac" stroke-width="0.8"/><line x1="217.71" y1="128.56" x2="216.51" y2="131.81" stroke="#acacac" stroke-width="0.8"/><line x1="150.62" y1="149.58" x2="150.43" y2="153" stroke="#acacac" stroke-width="0.8"/><line x1="192.91" y1="149.72" x2="191.86" y2="152.56" stroke="#acacac" stroke-width="0.8"/><line x1="138.09" y1="164.09" x2="134.42" y2="164.16" stroke="#acacac" stroke-width="0.8"/><line x1="176.98" y1="158.12" x2="178.05" y2="160.72" stroke="#acacac" stroke-width="0.8"/><line x1="217.76" y1="126.89" x2="216.81" y2="128.68" stroke="#acacac" stroke-width="0.8"/><line x1="225.68" y1="139.23" x2="224.86" y2="140.91" stroke="#acacac" stroke-width="0.8"/><line x1="215.79" y1="184.5" x2="213.54" y2="184.91" stroke="#acacac" stroke-width="0.8"/></g>
<text x="132.7" y="129.9" font-size="10.6" fill="#fcfcfc" stroke="#f4f4f4" stroke-width="0.4">40.6%</text>
<text x="132.7" y="141" font-size="10.6" fill="#fcfcfc" stroke="#f4f4f4" stroke-width="0.4">Unlabeled</text>
<rect x="215.9" y="188.7" width="11.2" height="2" fill="#1a1a1a"/>
<rect x="28.2" y="196" width="99.6" height="74.4" fill="#8b8b8b"/>
<rect x="28.2" y="196" width="99.6" height="74.4" fill="#fff" filter="url(#cl2)" opacity="0.12"/>
<rect x="28.2" y="196" width="99.6" height="74.4" fill="#fff" filter="url(#spk2)" opacity="0.42"/>
<g filter="url(#blr)"><circle cx="34.33" cy="243.04" r="1.14" fill="#d0d0d0"/><circle cx="124.06" cy="218.4" r="1.34" fill="#c0c0c0"/><circle cx="37.54" cy="233.74" r="0.74" fill="#c0c0c0"/><circle cx="111.35" cy="211.68" r="0.73" fill="#aaaaaa"/><circle cx="47.93" cy="225.14" r="1.08" fill="#c8c8c8"/><circle cx="117.78" cy="242.66" r="1.15" fill="#d0d0d0"/><circle cx="75.02" cy="257.8" r="1.16" fill="#b4b4b4"/><circle cx="71.87" cy="249.46" r="1.06" fill="#aaaaaa"/><circle cx="106.23" cy="225.35" r="1.07" fill="#d0d0d0"/><circle cx="118.09" cy="207.47" r="0.62" fill="#b4b4b4"/><circle cx="89.9" cy="208.72" r="1.38" fill="#b4b4b4"/><circle cx="32.21" cy="207.02" r="1.11" fill="#b4b4b4"/><circle cx="97.23" cy="250.34" r="0.65" fill="#d0d0d0"/><circle cx="103.55" cy="211.43" r="1.36" fill="#d0d0d0"/><circle cx="116.19" cy="201.77" r="1.29" fill="#c8c8c8"/><circle cx="39.65" cy="211.89" r="0.69" fill="#b4b4b4"/><circle cx="121.85" cy="262.96" r="1.2" fill="#b4b4b4"/><circle cx="109.73" cy="242.72" r="0.83" fill="#b4b4b4"/><circle cx="42.15" cy="254.34" r="1.12" fill="#aaaaaa"/><circle cx="60.35" cy="227.68" r="0.62" fill="#aaaaaa"/><circle cx="119.98" cy="200.5" r="1.21" fill="#aaaaaa"/><circle cx="104.28" cy="240.59" r="0.98" fill="#aaaaaa"/><circle cx="89.54" cy="199.24" r="0.93" fill="#c8c8c8"/><circle cx="79.82" cy="204.12" r="0.98" fill="#b4b4b4"/><circle cx="81.7" cy="212.68" r="1.29" fill="#b4b4b4"/><circle cx="85.28" cy="217.79" r="0.95" fill="#d0d0d0"/><circle cx="48.92" cy="252.18" r="1.38" fill="#b4b4b4"/><circle cx="63.15" cy="203.93" r="1.16" fill="#c0c0c0"/><circle cx="123.59" cy="239.9" r="1.37" fill="#d0d0d0"/><circle cx="54.63" cy="265.34" r="0.83" fill="#c0c0c0"/><circle cx="120.78" cy="213.76" r="0.73" fill="#b4b4b4"/><circle cx="77.05" cy="268.76" r="1.05" fill="#b4b4b4"/><circle cx="90.49" cy="222.75" r="0.92" fill="#c8c8c8"/><circle cx="116.24" cy="250.95" r="0.94" fill="#b4b4b4"/><circle cx="65.5" cy="218.95" r="0.94" fill="#d0d0d0"/><circle cx="78.12" cy="224.46" r="1.31" fill="#c0c0c0"/><circle cx="121.33" cy="206.19" r="1.08" fill="#d0d0d0"/><circle cx="92.28" cy="222.23" r="0.86" fill="#c0c0c0"/><circle cx="113.92" cy="229.6" r="1.04" fill="#aaaaaa"/><circle cx="45.75" cy="228.77" r="1.22" fill="#d0d0d0"/><circle cx="51.75" cy="221.19" r="1.11" fill="#c0c0c0"/><circle cx="78.75" cy="216.37" r="1.2" fill="#d0d0d0"/><circle cx="44.29" cy="208.29" r="0.8" fill="#aaaaaa"/><circle cx="88.04" cy="222.24" r="0.79" fill="#c0c0c0"/><circle cx="54.45" cy="266.14" r="1.4" fill="#c0c0c0"/><circle cx="123.13" cy="204.36" r="0.91" fill="#c0c0c0"/><circle cx="106.78" cy="250.09" r="0.95" fill="#c0c0c0"/><circle cx="39.87" cy="262.99" r="0.82" fill="#c8c8c8"/><circle cx="74.48" cy="197.91" r="1.28" fill="#c8c8c8"/><circle cx="96.88" cy="233.24" r="1.11" fill="#c8c8c8"/><circle cx="31.36" cy="215.62" r="1.19" fill="#b4b4b4"/><circle cx="101.52" cy="262.74" r="0.94" fill="#d0d0d0"/><circle cx="86.53" cy="243.86" r="1.28" fill="#d0d0d0"/><circle cx="112.4" cy="246.2" r="1.11" fill="#c8c8c8"/><circle cx="71.41" cy="215.81" r="1.16" fill="#c8c8c8"/><circle cx="52.86" cy="225.97" r="1.17" fill="#c0c0c0"/><circle cx="53.61" cy="227.67" r="0.96" fill="#d0d0d0"/><circle cx="112.99" cy="234.52" r="1.13" fill="#c0c0c0"/><circle cx="116.5" cy="220.75" r="0.61" fill="#c8c8c8"/><circle cx="117.84" cy="204.7" r="0.8" fill="#c0c0c0"/><circle cx="44.9" cy="253.6" r="1.35" fill="#d0d0d0"/><circle cx="63.19" cy="258.33" r="0.97" fill="#c0c0c0"/><circle cx="99.21" cy="234.08" r="1.11" fill="#aaaaaa"/><circle cx="80.12" cy="226.71" r="1.36" fill="#c0c0c0"/><circle cx="125.85" cy="210.31" r="1.01" fill="#b4b4b4"/><circle cx="100.36" cy="241.45" r="1.11" fill="#aaaaaa"/><circle cx="55.98" cy="225.94" r="0.61" fill="#c8c8c8"/><circle cx="118.55" cy="242.51" r="1.14" fill="#d0d0d0"/><circle cx="55.08" cy="213.25" r="1.19" fill="#d0d0d0"/><circle cx="124.02" cy="268.98" r="1.37" fill="#c8c8c8"/><circle cx="49.89" cy="206.36" r="1.22" fill="#c0c0c0"/><circle cx="74.99" cy="237.69" r="0.78" fill="#c0c0c0"/><circle cx="63.67" cy="243.25" r="1.25" fill="#c8c8c8"/><circle cx="74.89" cy="218.31" r="1.04" fill="#c0c0c0"/><circle cx="105.31" cy="230.98" r="1.23" fill="#c0c0c0"/><line x1="55.23" y1="223.73" x2="57.17" y2="225.71" stroke="#acacac" stroke-width="0.8"/><line x1="47.6" y1="198.18" x2="46.1" y2="199.98" stroke="#acacac" stroke-width="0.8"/><line x1="53.13" y1="218.64" x2="53.31" y2="221.42" stroke="#acacac" stroke-width="0.8"/><line x1="89.85" y1="243.09" x2="91.65" y2="246.99" stroke="#acacac" stroke-width="0.8"/><line x1="110.18" y1="201.9" x2="106.56" y2="204.07" stroke="#acacac" stroke-width="0.8"/><line x1="103.59" y1="207.6" x2="100.65" y2="209.32" stroke="#acacac" stroke-width="0.8"/><line x1="31.6" y1="198.79" x2="28.17" y2="199.31" stroke="#acacac" stroke-width="0.8"/><line x1="53.6" y1="204.94" x2="55.59" y2="205.9" stroke="#acacac" stroke-width="0.8"/><line x1="102.86" y1="221.7" x2="106.6" y2="223.64" stroke="#acacac" stroke-width="0.8"/><line x1="104.3" y1="209.49" x2="101.17" y2="210.6" stroke="#acacac" stroke-width="0.8"/><line x1="103.33" y1="243.72" x2="99.68" y2="244.99" stroke="#acacac" stroke-width="0.8"/><line x1="108.71" y1="211.5" x2="106.95" y2="214.04" stroke="#acacac" stroke-width="0.8"/><line x1="99.64" y1="228" x2="96.69" y2="229.14" stroke="#acacac" stroke-width="0.8"/><line x1="54.96" y1="214.02" x2="57.65" y2="215.28" stroke="#acacac" stroke-width="0.8"/><line x1="35.67" y1="229.95" x2="38.34" y2="231.25" stroke="#acacac" stroke-width="0.8"/><line x1="76.83" y1="234.9" x2="75.45" y2="235.54" stroke="#acacac" stroke-width="0.8"/><line x1="108.9" y1="230.01" x2="108.21" y2="233.44" stroke="#acacac" stroke-width="0.8"/><line x1="108.88" y1="223.65" x2="109.98" y2="227.89" stroke="#acacac" stroke-width="0.8"/><line x1="37.26" y1="241.57" x2="36.6" y2="243.02" stroke="#acacac" stroke-width="0.8"/><line x1="87.27" y1="244.69" x2="84.83" y2="245.22" stroke="#acacac" stroke-width="0.8"/><line x1="122.09" y1="232.93" x2="122.29" y2="237.11" stroke="#acacac" stroke-width="0.8"/><line x1="33.37" y1="247.12" x2="32.41" y2="249.45" stroke="#acacac" stroke-width="0.8"/><line x1="110.85" y1="223.05" x2="111.1" y2="226.11" stroke="#acacac" stroke-width="0.8"/><line x1="102.33" y1="212.41" x2="102.89" y2="215.12" stroke="#acacac" stroke-width="0.8"/><line x1="82.06" y1="254.55" x2="84.47" y2="257.72" stroke="#acacac" stroke-width="0.8"/><line x1="67.99" y1="232.46" x2="69.97" y2="234.73" stroke="#acacac" stroke-width="0.8"/><line x1="121.46" y1="242.77" x2="119.48" y2="244.29" stroke="#acacac" stroke-width="0.8"/><line x1="59.88" y1="218.47" x2="58.97" y2="221.75" stroke="#acacac" stroke-width="0.8"/><line x1="103.6" y1="200.74" x2="100.93" y2="203.92" stroke="#acacac" stroke-width="0.8"/><line x1="81.25" y1="201.4" x2="82.14" y2="202.63" stroke="#acacac" stroke-width="0.8"/></g>
<text x="30.8" y="206.5" font-size="10.6" fill="#fcfcfc" stroke="#f4f4f4" stroke-width="0.4">22.8%</text>
<text x="30.8" y="217.6" font-size="10.6" fill="#fcfcfc" stroke="#f4f4f4" stroke-width="0.4">NP-labeled</text>
<rect x="113.7" y="265.5" width="11.2" height="2" fill="#1a1a1a"/>
<rect x="130.1" y="196" width="99.9" height="74.4" fill="#909090"/>
<rect x="130.1" y="196" width="99.9" height="74.4" fill="#fff" filter="url(#cl3)" opacity="0.12"/>
<rect x="130.1" y="196" width="99.9" height="74.4" fill="#fff" filter="url(#spk3)" opacity="0.36"/>
<g filter="url(#blr)"><circle cx="149.7" cy="263.71" r="1.09" fill="#b4b4b4"/><circle cx="208.35" cy="262.87" r="1.09" fill="#d0d0d0"/><circle cx="145.5" cy="245.78" r="1.15" fill="#b4b4b4"/><circle cx="151.9" cy="245.29" r="0.97" fill="#c0c0c0"/><circle cx="141.02" cy="210.13" r="0.63" fill="#b4b4b4"/><circle cx="220.59" cy="244.47" r="0.9" fill="#c0c0c0"/><circle cx="208.1" cy="237.7" r="0.81" fill="#aaaaaa"/><circle cx="149.19" cy="199.48" r="0.62" fill="#d0d0d0"/><circle cx="193.93" cy="264.61" r="0.64" fill="#d0d0d0"/><circle cx="182.22" cy="256.71" r="1.22" fill="#c8c8c8"/><circle cx="187.42" cy="263.51" r="0.96" fill="#b4b4b4"/><circle cx="197.67" cy="240" r="1.39" fill="#c0c0c0"/><circle cx="177.65" cy="226.86" r="0.68" fill="#c8c8c8"/><circle cx="151.88" cy="207.99" r="0.61" fill="#b4b4b4"/><circle cx="132.01" cy="245.46" r="1.39" fill="#b4b4b4"/><circle cx="152.47" cy="205.79" r="0.98" fill="#aaaaaa"/><circle cx="201.52" cy="214.54" r="1.19" fill="#c0c0c0"/><circle cx="221.44" cy="223.49" r="1.2" fill="#c0c0c0"/><circle cx="202.54" cy="203.1" r="1.1" fill="#c8c8c8"/><circle cx="176.19" cy="264.5" r="0.8" fill="#b4b4b4"/><circle cx="201.31" cy="197.83" r="0.61" fill="#d0d0d0"/><circle cx="138.9" cy="219.52" r="1.18" fill="#c0c0c0"/><circle cx="224.86" cy="257.45" r="1.09" fill="#aaaaaa"/><circle cx="167.08" cy="238.63" r="0.95" fill="#c0c0c0"/><circle cx="145.29" cy="254.73" r="0.89" fill="#c0c0c0"/><circle cx="192.75" cy="227.26" r="0.91" fill="#c8c8c8"/><circle cx="223.61" cy="253.81" r="1.05" fill="#aaaaaa"/><circle cx="158.5" cy="242.02" r="1.12" fill="#d0d0d0"/><circle cx="163.61" cy="240.86" r="1.38" fill="#c0c0c0"/><circle cx="189.95" cy="219.34" r="0.94" fill="#c0c0c0"/><circle cx="167.98" cy="246.58" r="1.08" fill="#c0c0c0"/><circle cx="210.15" cy="217.51" r="0.6" fill="#aaaaaa"/><circle cx="157.34" cy="208.39" r="1.34" fill="#b4b4b4"/><circle cx="159.35" cy="207.18" r="1.31" fill="#d0d0d0"/><circle cx="145.49" cy="267.62" r="1.24" fill="#d0d0d0"/><circle cx="198.13" cy="263.16" r="0.88" fill="#b4b4b4"/><circle cx="183.96" cy="232.1" r="0.91" fill="#c0c0c0"/><circle cx="161.4" cy="201.17" r="0.92" fill="#c0c0c0"/><circle cx="221.76" cy="239.45" r="0.61" fill="#c8c8c8"/><circle cx="176.11" cy="203.35" r="1.25" fill="#b4b4b4"/><circle cx="153.9" cy="238.96" r="1.32" fill="#d0d0d0"/><circle cx="162.53" cy="233.65" r="0.76" fill="#c0c0c0"/><circle cx="149.93" cy="210.08" r="1.16" fill="#aaaaaa"/><circle cx="187.67" cy="222.98" r="1.22" fill="#c0c0c0"/><circle cx="155.21" cy="263.8" r="0.99" fill="#b4b4b4"/><circle cx="167.49" cy="230.55" r="0.67" fill="#aaaaaa"/><circle cx="189.57" cy="221.97" r="1.02" fill="#b4b4b4"/><circle cx="140.31" cy="211.82" r="1.3" fill="#d0d0d0"/><circle cx="178.71" cy="238.06" r="0.81" fill="#aaaaaa"/><circle cx="172.8" cy="265.53" r="1.21" fill="#d0d0d0"/><line x1="222.57" y1="215.37" x2="224.66" y2="215.62" stroke="#acacac" stroke-width="0.8"/><line x1="149.07" y1="203.72" x2="152.2" y2="204.23" stroke="#acacac" stroke-width="0.8"/><line x1="213.86" y1="229.35" x2="209.68" y2="230.04" stroke="#acacac" stroke-width="0.8"/><line x1="138.13" y1="238.91" x2="138.72" y2="240.67" stroke="#acacac" stroke-width="0.8"/><line x1="222.18" y1="215.59" x2="221.49" y2="218.94" stroke="#acacac" stroke-width="0.8"/><line x1="221.91" y1="243.81" x2="222.85" y2="246.5" stroke="#acacac" stroke-width="0.8"/><line x1="147.1" y1="264.06" x2="144.93" y2="264.11" stroke="#acacac" stroke-width="0.8"/><line x1="135.73" y1="215.5" x2="137.61" y2="219.26" stroke="#acacac" stroke-width="0.8"/><line x1="217.04" y1="255.27" x2="220.86" y2="255.83" stroke="#acacac" stroke-width="0.8"/><line x1="198.73" y1="242.23" x2="197.07" y2="242.31" stroke="#acacac" stroke-width="0.8"/><line x1="145.7" y1="249.64" x2="142.23" y2="250.31" stroke="#acacac" stroke-width="0.8"/><line x1="160.16" y1="238.46" x2="158.84" y2="239.71" stroke="#acacac" stroke-width="0.8"/><line x1="162.52" y1="215.58" x2="165.24" y2="216.7" stroke="#acacac" stroke-width="0.8"/><line x1="147.93" y1="214.31" x2="151.11" y2="215.85" stroke="#acacac" stroke-width="0.8"/><line x1="133.28" y1="247.06" x2="134.6" y2="247.98" stroke="#acacac" stroke-width="0.8"/><line x1="219.21" y1="213.09" x2="215.2" y2="213.93" stroke="#acacac" stroke-width="0.8"/><line x1="215.55" y1="207.56" x2="215.85" y2="209.33" stroke="#acacac" stroke-width="0.8"/><line x1="219.31" y1="255.61" x2="218.19" y2="258.24" stroke="#acacac" stroke-width="0.8"/><line x1="164.01" y1="254.3" x2="164.24" y2="257.67" stroke="#acacac" stroke-width="0.8"/><line x1="145.51" y1="213.16" x2="149.09" y2="213.81" stroke="#acacac" stroke-width="0.8"/><line x1="184.06" y1="207.9" x2="181.95" y2="208.81" stroke="#acacac" stroke-width="0.8"/><line x1="170.77" y1="208.65" x2="173.41" y2="211.67" stroke="#acacac" stroke-width="0.8"/><line x1="163.51" y1="209.48" x2="163.58" y2="211.93" stroke="#acacac" stroke-width="0.8"/><line x1="216.91" y1="205.81" x2="215.24" y2="205.92" stroke="#acacac" stroke-width="0.8"/><line x1="216.14" y1="243.71" x2="218.45" y2="245.52" stroke="#acacac" stroke-width="0.8"/><line x1="158.98" y1="215.63" x2="161.07" y2="217.17" stroke="#acacac" stroke-width="0.8"/><line x1="225.16" y1="266.27" x2="223.41" y2="266.69" stroke="#acacac" stroke-width="0.8"/><line x1="159.28" y1="259.3" x2="162.9" y2="259.96" stroke="#acacac" stroke-width="0.8"/><line x1="159.66" y1="264.94" x2="163.58" y2="265.14" stroke="#acacac" stroke-width="0.8"/><line x1="164.11" y1="207.59" x2="168.11" y2="207.61" stroke="#acacac" stroke-width="0.8"/></g>
<text x="132.7" y="206.5" font-size="10.6" fill="#fcfcfc" stroke="#f4f4f4" stroke-width="0.4">40.6%</text>
<text x="132.7" y="217.6" font-size="10.6" fill="#fcfcfc" stroke="#f4f4f4" stroke-width="0.4">NP-labeled</text>
<rect x="215.9" y="265.5" width="11.2" height="2" fill="#1a1a1a"/>
<rect x="295.2" y="14.8" width="377.9" height="60" fill="#e8e9e9"/>
<rect x="295.2" y="74.8" width="157.4" height="150.8" fill="#eeeffa"/>
<rect x="452.6" y="74.8" width="220.5" height="150.8" fill="#fbf4f4"/>
<line x1="294.6" y1="17" x2="294.6" y2="226.3" stroke="#3a3a3a" stroke-width="1.4"/>
<line x1="294" y1="225.9" x2="676.6" y2="225.9" stroke="#3a3a3a" stroke-width="1.4"/>
<line x1="291.6" y1="17.5" x2="294.6" y2="17.5" stroke="#3a3a3a" stroke-width="1.1"/>
<text x="289.8" y="22.8" font-size="15" text-anchor="end" fill="#111">30</text>
<line x1="291.6" y1="59.12" x2="294.6" y2="59.12" stroke="#3a3a3a" stroke-width="1.1"/>
<text x="289.8" y="64.42" font-size="15" text-anchor="end" fill="#111">25</text>
<line x1="291.6" y1="100.74" x2="294.6" y2="100.74" stroke="#3a3a3a" stroke-width="1.1"/>
<text x="289.8" y="106.04" font-size="15" text-anchor="end" fill="#111">20</text>
<line x1="291.6" y1="142.36" x2="294.6" y2="142.36" stroke="#3a3a3a" stroke-width="1.1"/>
<text x="289.8" y="147.66" font-size="15" text-anchor="end" fill="#111">15</text>
<line x1="291.6" y1="183.98" x2="294.6" y2="183.98" stroke="#3a3a3a" stroke-width="1.1"/>
<text x="289.8" y="189.28" font-size="15" text-anchor="end" fill="#111">10</text>
<line x1="291.6" y1="225.6" x2="294.6" y2="225.6" stroke="#3a3a3a" stroke-width="1.1"/>
<text x="289.8" y="230.9" font-size="15" text-anchor="end" fill="#111">5</text>
<line x1="317" y1="225.9" x2="317" y2="229.6" stroke="#3a3a3a" stroke-width="1.1"/>
<text x="321.4" y="239.4" font-size="12.6" text-anchor="end" fill="#111" transform="rotate(-45 321.4 239.4)">0</text>
<line x1="350.68" y1="225.9" x2="350.68" y2="229.6" stroke="#3a3a3a" stroke-width="1.1"/>
<text x="355.08" y="239.4" font-size="12.6" text-anchor="end" fill="#111" transform="rotate(-45 355.08 239.4)">15</text>
<line x1="384.36" y1="225.9" x2="384.36" y2="229.6" stroke="#3a3a3a" stroke-width="1.1"/>
<text x="388.76" y="239.4" font-size="12.6" text-anchor="end" fill="#111" transform="rotate(-45 388.76 239.4)">16</text>
<line x1="418.04" y1="225.9" x2="418.04" y2="229.6" stroke="#3a3a3a" stroke-width="1.1"/>
<text x="422.44" y="239.4" font-size="12.6" text-anchor="end" fill="#111" transform="rotate(-45 422.44 239.4)">21</text>
<line x1="451.72" y1="225.9" x2="451.72" y2="229.6" stroke="#3a3a3a" stroke-width="1.1"/>
<text x="456.12" y="239.4" font-size="12.6" text-anchor="end" fill="#111" transform="rotate(-45 456.12 239.4)">25</text>
<line x1="485.4" y1="225.9" x2="485.4" y2="229.6" stroke="#3a3a3a" stroke-width="1.1"/>
<text x="489.8" y="239.4" font-size="12.6" text-anchor="end" fill="#111" transform="rotate(-45 489.8 239.4)">35</text>
<line x1="519.08" y1="225.9" x2="519.08" y2="229.6" stroke="#3a3a3a" stroke-width="1.1"/>
<text x="523.48" y="239.4" font-size="12.6" text-anchor="end" fill="#111" transform="rotate(-45 523.48 239.4)">42</text>
<line x1="552.76" y1="225.9" x2="552.76" y2="229.6" stroke="#3a3a3a" stroke-width="1.1"/>
<text x="557.16" y="239.4" font-size="12.6" text-anchor="end" fill="#111" transform="rotate(-45 557.16 239.4)">49</text>
<line x1="586.44" y1="225.9" x2="586.44" y2="229.6" stroke="#3a3a3a" stroke-width="1.1"/>
<text x="590.84" y="239.4" font-size="12.6" text-anchor="end" fill="#111" transform="rotate(-45 590.84 239.4)">56</text>
<line x1="620.12" y1="225.9" x2="620.12" y2="229.6" stroke="#3a3a3a" stroke-width="1.1"/>
<text x="624.52" y="239.4" font-size="12.6" text-anchor="end" fill="#111" transform="rotate(-45 624.52 239.4)">63</text>
<line x1="653.8" y1="225.9" x2="653.8" y2="229.6" stroke="#3a3a3a" stroke-width="1.1"/>
<text x="658.2" y="239.4" font-size="12.6" text-anchor="end" fill="#111" transform="rotate(-45 658.2 239.4)">70</text>
<text x="485.6" y="269.7" font-size="15" text-anchor="middle" fill="#111">Days</text>
<text x="265.4" y="119" font-size="18.8" text-anchor="middle" fill="#111" transform="rotate(-90 265.4 119)">IOP (mmHg)</text>
<text x="300.6" y="216.2" font-size="9.7" font-weight="bold" fill="#111">Day 0: Ad5-MYOC<tspan dy="-4.6" font-size="7">Y437H</tspan><tspan dy="4.6"> injection</tspan></text>
<text x="456.5" y="216.2" font-size="9.7" font-weight="bold" fill="#111">Day 25: cell transplantation</text>
<line x1="317" y1="147.35" x2="317" y2="172.33" stroke="#2b2be3" stroke-width="1.3"/>
<line x1="314.6" y1="147.35" x2="319.4" y2="147.35" stroke="#2b2be3" stroke-width="1.3"/>
<line x1="314.6" y1="172.33" x2="319.4" y2="172.33" stroke="#2b2be3" stroke-width="1.3"/>
<line x1="350.68" y1="107.4" x2="350.68" y2="132.37" stroke="#2b2be3" stroke-width="1.3"/>
<line x1="348.28" y1="107.4" x2="353.08" y2="107.4" stroke="#2b2be3" stroke-width="1.3"/>
<line x1="348.28" y1="132.37" x2="353.08" y2="132.37" stroke="#2b2be3" stroke-width="1.3"/>
<line x1="384.36" y1="81.59" x2="384.36" y2="134.87" stroke="#2b2be3" stroke-width="1.3"/>
<line x1="381.96" y1="81.59" x2="386.76" y2="81.59" stroke="#2b2be3" stroke-width="1.3"/>
<line x1="381.96" y1="134.87" x2="386.76" y2="134.87" stroke="#2b2be3" stroke-width="1.3"/>
<line x1="418.04" y1="81.93" x2="418.04" y2="116.89" stroke="#2b2be3" stroke-width="1.3"/>
<line x1="415.64" y1="81.93" x2="420.44" y2="81.93" stroke="#2b2be3" stroke-width="1.3"/>
<line x1="415.64" y1="116.89" x2="420.44" y2="116.89" stroke="#2b2be3" stroke-width="1.3"/>
<line x1="451.72" y1="84.09" x2="451.72" y2="119.05" stroke="#2b2be3" stroke-width="1.3"/>
<line x1="449.32" y1="84.09" x2="454.12" y2="84.09" stroke="#2b2be3" stroke-width="1.3"/>
<line x1="449.32" y1="119.05" x2="454.12" y2="119.05" stroke="#2b2be3" stroke-width="1.3"/>
<line x1="485.4" y1="107.4" x2="485.4" y2="147.35" stroke="#2b2be3" stroke-width="1.3"/>
<line x1="483" y1="107.4" x2="487.8" y2="107.4" stroke="#2b2be3" stroke-width="1.3"/>
<line x1="483" y1="147.35" x2="487.8" y2="147.35" stroke="#2b2be3" stroke-width="1.3"/>
<line x1="519.08" y1="121.55" x2="519.08" y2="146.52" stroke="#2b2be3" stroke-width="1.3"/>
<line x1="516.68" y1="121.55" x2="521.48" y2="121.55" stroke="#2b2be3" stroke-width="1.3"/>
<line x1="516.68" y1="146.52" x2="521.48" y2="146.52" stroke="#2b2be3" stroke-width="1.3"/>
<line x1="552.76" y1="135.12" x2="552.76" y2="163.42" stroke="#2b2be3" stroke-width="1.3"/>
<line x1="550.36" y1="135.12" x2="555.16" y2="135.12" stroke="#2b2be3" stroke-width="1.3"/>
<line x1="550.36" y1="163.42" x2="555.16" y2="163.42" stroke="#2b2be3" stroke-width="1.3"/>
<line x1="586.44" y1="136.53" x2="586.44" y2="159.84" stroke="#2b2be3" stroke-width="1.3"/>
<line x1="584.04" y1="136.53" x2="588.84" y2="136.53" stroke="#2b2be3" stroke-width="1.3"/>
<line x1="584.04" y1="159.84" x2="588.84" y2="159.84" stroke="#2b2be3" stroke-width="1.3"/>
<line x1="620.12" y1="132.37" x2="620.12" y2="159.01" stroke="#2b2be3" stroke-width="1.3"/>
<line x1="617.72" y1="132.37" x2="622.52" y2="132.37" stroke="#2b2be3" stroke-width="1.3"/>
<line x1="617.72" y1="159.01" x2="622.52" y2="159.01" stroke="#2b2be3" stroke-width="1.3"/>
<line x1="653.8" y1="135.7" x2="653.8" y2="152.35" stroke="#2b2be3" stroke-width="1.3"/>
<line x1="651.4" y1="135.7" x2="656.2" y2="135.7" stroke="#2b2be3" stroke-width="1.3"/>
<line x1="651.4" y1="152.35" x2="656.2" y2="152.35" stroke="#2b2be3" stroke-width="1.3"/>
<line x1="317" y1="147.35" x2="317" y2="167.33" stroke="#4b9ea0" stroke-width="1.3"/>
<line x1="314.6" y1="147.35" x2="319.4" y2="147.35" stroke="#4b9ea0" stroke-width="1.3"/>
<line x1="314.6" y1="167.33" x2="319.4" y2="167.33" stroke="#4b9ea0" stroke-width="1.3"/>
<line x1="350.68" y1="119.89" x2="350.68" y2="144.86" stroke="#4b9ea0" stroke-width="1.3"/>
<line x1="348.28" y1="119.89" x2="353.08" y2="119.89" stroke="#4b9ea0" stroke-width="1.3"/>
<line x1="348.28" y1="144.86" x2="353.08" y2="144.86" stroke="#4b9ea0" stroke-width="1.3"/>
<line x1="384.36" y1="100.74" x2="384.36" y2="134.04" stroke="#4b9ea0" stroke-width="1.3"/>
<line x1="381.96" y1="100.74" x2="386.76" y2="100.74" stroke="#4b9ea0" stroke-width="1.3"/>
<line x1="381.96" y1="134.04" x2="386.76" y2="134.04" stroke="#4b9ea0" stroke-width="1.3"/>
<line x1="418.04" y1="89.59" x2="418.04" y2="137.87" stroke="#4b9ea0" stroke-width="1.3"/>
<line x1="415.64" y1="89.59" x2="420.44" y2="89.59" stroke="#4b9ea0" stroke-width="1.3"/>
<line x1="415.64" y1="137.87" x2="420.44" y2="137.87" stroke="#4b9ea0" stroke-width="1.3"/>
<line x1="451.72" y1="96.08" x2="451.72" y2="129.37" stroke="#4b9ea0" stroke-width="1.3"/>
<line x1="449.32" y1="96.08" x2="454.12" y2="96.08" stroke="#4b9ea0" stroke-width="1.3"/>
<line x1="449.32" y1="129.37" x2="454.12" y2="129.37" stroke="#4b9ea0" stroke-width="1.3"/>
<line x1="485.4" y1="112.39" x2="485.4" y2="132.37" stroke="#4b9ea0" stroke-width="1.3"/>
<line x1="483" y1="112.39" x2="487.8" y2="112.39" stroke="#4b9ea0" stroke-width="1.3"/>
<line x1="483" y1="132.37" x2="487.8" y2="132.37" stroke="#4b9ea0" stroke-width="1.3"/>
<line x1="519.08" y1="123.21" x2="519.08" y2="169.83" stroke="#4b9ea0" stroke-width="1.3"/>
<line x1="516.68" y1="123.21" x2="521.48" y2="123.21" stroke="#4b9ea0" stroke-width="1.3"/>
<line x1="516.68" y1="169.83" x2="521.48" y2="169.83" stroke="#4b9ea0" stroke-width="1.3"/>
<line x1="552.76" y1="129.29" x2="552.76" y2="150.93" stroke="#4b9ea0" stroke-width="1.3"/>
<line x1="550.36" y1="129.29" x2="555.16" y2="129.29" stroke="#4b9ea0" stroke-width="1.3"/>
<line x1="550.36" y1="150.93" x2="555.16" y2="150.93" stroke="#4b9ea0" stroke-width="1.3"/>
<line x1="586.44" y1="129.87" x2="586.44" y2="159.84" stroke="#4b9ea0" stroke-width="1.3"/>
<line x1="584.04" y1="129.87" x2="588.84" y2="129.87" stroke="#4b9ea0" stroke-width="1.3"/>
<line x1="584.04" y1="159.84" x2="588.84" y2="159.84" stroke="#4b9ea0" stroke-width="1.3"/>
<line x1="620.12" y1="137.37" x2="620.12" y2="162.34" stroke="#4b9ea0" stroke-width="1.3"/>
<line x1="617.72" y1="137.37" x2="622.52" y2="137.37" stroke="#4b9ea0" stroke-width="1.3"/>
<line x1="617.72" y1="162.34" x2="622.52" y2="162.34" stroke="#4b9ea0" stroke-width="1.3"/>
<line x1="653.8" y1="144.02" x2="653.8" y2="165.67" stroke="#4b9ea0" stroke-width="1.3"/>
<line x1="651.4" y1="144.02" x2="656.2" y2="144.02" stroke="#4b9ea0" stroke-width="1.3"/>
<line x1="651.4" y1="165.67" x2="656.2" y2="165.67" stroke="#4b9ea0" stroke-width="1.3"/>
<line x1="317" y1="147.35" x2="317" y2="169" stroke="#ee8244" stroke-width="1.3"/>
<line x1="314.6" y1="147.35" x2="319.4" y2="147.35" stroke="#ee8244" stroke-width="1.3"/>
<line x1="314.6" y1="169" x2="319.4" y2="169" stroke="#ee8244" stroke-width="1.3"/>
<line x1="350.68" y1="101.57" x2="350.68" y2="154.85" stroke="#ee8244" stroke-width="1.3"/>
<line x1="348.28" y1="101.57" x2="353.08" y2="101.57" stroke="#ee8244" stroke-width="1.3"/>
<line x1="348.28" y1="154.85" x2="353.08" y2="154.85" stroke="#ee8244" stroke-width="1.3"/>
<line x1="384.36" y1="104.07" x2="384.36" y2="147.35" stroke="#ee8244" stroke-width="1.3"/>
<line x1="381.96" y1="104.07" x2="386.76" y2="104.07" stroke="#ee8244" stroke-width="1.3"/>
<line x1="381.96" y1="147.35" x2="386.76" y2="147.35" stroke="#ee8244" stroke-width="1.3"/>
<line x1="418.04" y1="108.23" x2="418.04" y2="161.51" stroke="#ee8244" stroke-width="1.3"/>
<line x1="415.64" y1="108.23" x2="420.44" y2="108.23" stroke="#ee8244" stroke-width="1.3"/>
<line x1="415.64" y1="161.51" x2="420.44" y2="161.51" stroke="#ee8244" stroke-width="1.3"/>
<line x1="451.72" y1="104.07" x2="451.72" y2="135.7" stroke="#ee8244" stroke-width="1.3"/>
<line x1="449.32" y1="104.07" x2="454.12" y2="104.07" stroke="#ee8244" stroke-width="1.3"/>
<line x1="449.32" y1="135.7" x2="454.12" y2="135.7" stroke="#ee8244" stroke-width="1.3"/>
<line x1="485.4" y1="102.4" x2="485.4" y2="132.37" stroke="#ee8244" stroke-width="1.3"/>
<line x1="483" y1="102.4" x2="487.8" y2="102.4" stroke="#ee8244" stroke-width="1.3"/>
<line x1="483" y1="132.37" x2="487.8" y2="132.37" stroke="#ee8244" stroke-width="1.3"/>
<line x1="519.08" y1="114.06" x2="519.08" y2="132.37" stroke="#ee8244" stroke-width="1.3"/>
<line x1="516.68" y1="114.06" x2="521.48" y2="114.06" stroke="#ee8244" stroke-width="1.3"/>
<line x1="516.68" y1="132.37" x2="521.48" y2="132.37" stroke="#ee8244" stroke-width="1.3"/>
<line x1="552.76" y1="105.32" x2="552.76" y2="135.28" stroke="#ee8244" stroke-width="1.3"/>
<line x1="550.36" y1="105.32" x2="555.16" y2="105.32" stroke="#ee8244" stroke-width="1.3"/>
<line x1="550.36" y1="135.28" x2="555.16" y2="135.28" stroke="#ee8244" stroke-width="1.3"/>
<line x1="586.44" y1="111.98" x2="586.44" y2="130.29" stroke="#ee8244" stroke-width="1.3"/>
<line x1="584.04" y1="111.98" x2="588.84" y2="111.98" stroke="#ee8244" stroke-width="1.3"/>
<line x1="584.04" y1="130.29" x2="588.84" y2="130.29" stroke="#ee8244" stroke-width="1.3"/>
<line x1="620.12" y1="106.98" x2="620.12" y2="140.28" stroke="#ee8244" stroke-width="1.3"/>
<line x1="617.72" y1="106.98" x2="622.52" y2="106.98" stroke="#ee8244" stroke-width="1.3"/>
<line x1="617.72" y1="140.28" x2="622.52" y2="140.28" stroke="#ee8244" stroke-width="1.3"/>
<line x1="653.8" y1="111.56" x2="653.8" y2="134.87" stroke="#ee8244" stroke-width="1.3"/>
<line x1="651.4" y1="111.56" x2="656.2" y2="111.56" stroke="#ee8244" stroke-width="1.3"/>
<line x1="651.4" y1="134.87" x2="656.2" y2="134.87" stroke="#ee8244" stroke-width="1.3"/>
<line x1="317" y1="149.85" x2="317" y2="169.83" stroke="#6d6d6d" stroke-width="1.3"/>
<line x1="314.6" y1="149.85" x2="319.4" y2="149.85" stroke="#6d6d6d" stroke-width="1.3"/>
<line x1="314.6" y1="169.83" x2="319.4" y2="169.83" stroke="#6d6d6d" stroke-width="1.3"/>
<line x1="350.68" y1="135.7" x2="350.68" y2="162.34" stroke="#6d6d6d" stroke-width="1.3"/>
<line x1="348.28" y1="135.7" x2="353.08" y2="135.7" stroke="#6d6d6d" stroke-width="1.3"/>
<line x1="348.28" y1="162.34" x2="353.08" y2="162.34" stroke="#6d6d6d" stroke-width="1.3"/>
<line x1="384.36" y1="129.87" x2="384.36" y2="149.85" stroke="#6d6d6d" stroke-width="1.3"/>
<line x1="381.96" y1="129.87" x2="386.76" y2="129.87" stroke="#6d6d6d" stroke-width="1.3"/>
<line x1="381.96" y1="149.85" x2="386.76" y2="149.85" stroke="#6d6d6d" stroke-width="1.3"/>
<line x1="418.04" y1="139.03" x2="418.04" y2="165.67" stroke="#6d6d6d" stroke-width="1.3"/>
<line x1="415.64" y1="139.03" x2="420.44" y2="139.03" stroke="#6d6d6d" stroke-width="1.3"/>
<line x1="415.64" y1="165.67" x2="420.44" y2="165.67" stroke="#6d6d6d" stroke-width="1.3"/>
<line x1="451.72" y1="139.03" x2="451.72" y2="160.67" stroke="#6d6d6d" stroke-width="1.3"/>
<line x1="449.32" y1="139.03" x2="454.12" y2="139.03" stroke="#6d6d6d" stroke-width="1.3"/>
<line x1="449.32" y1="160.67" x2="454.12" y2="160.67" stroke="#6d6d6d" stroke-width="1.3"/>
<line x1="485.4" y1="132.37" x2="485.4" y2="152.35" stroke="#6d6d6d" stroke-width="1.3"/>
<line x1="483" y1="132.37" x2="487.8" y2="132.37" stroke="#6d6d6d" stroke-width="1.3"/>
<line x1="483" y1="152.35" x2="487.8" y2="152.35" stroke="#6d6d6d" stroke-width="1.3"/>
<line x1="519.08" y1="138.2" x2="519.08" y2="158.18" stroke="#6d6d6d" stroke-width="1.3"/>
<line x1="516.68" y1="138.2" x2="521.48" y2="138.2" stroke="#6d6d6d" stroke-width="1.3"/>
<line x1="516.68" y1="158.18" x2="521.48" y2="158.18" stroke="#6d6d6d" stroke-width="1.3"/>
<line x1="552.76" y1="135.7" x2="552.76" y2="152.35" stroke="#6d6d6d" stroke-width="1.3"/>
<line x1="550.36" y1="135.7" x2="555.16" y2="135.7" stroke="#6d6d6d" stroke-width="1.3"/>
<line x1="550.36" y1="152.35" x2="555.16" y2="152.35" stroke="#6d6d6d" stroke-width="1.3"/>
<line x1="586.44" y1="144.86" x2="586.44" y2="161.51" stroke="#6d6d6d" stroke-width="1.3"/>
<line x1="584.04" y1="144.86" x2="588.84" y2="144.86" stroke="#6d6d6d" stroke-width="1.3"/>
<line x1="584.04" y1="161.51" x2="588.84" y2="161.51" stroke="#6d6d6d" stroke-width="1.3"/>
<line x1="620.12" y1="141.53" x2="620.12" y2="158.18" stroke="#6d6d6d" stroke-width="1.3"/>
<line x1="617.72" y1="141.53" x2="622.52" y2="141.53" stroke="#6d6d6d" stroke-width="1.3"/>
<line x1="617.72" y1="158.18" x2="622.52" y2="158.18" stroke="#6d6d6d" stroke-width="1.3"/>
<line x1="653.8" y1="144.02" x2="653.8" y2="160.67" stroke="#6d6d6d" stroke-width="1.3"/>
<line x1="651.4" y1="144.02" x2="656.2" y2="144.02" stroke="#6d6d6d" stroke-width="1.3"/>
<line x1="651.4" y1="160.67" x2="656.2" y2="160.67" stroke="#6d6d6d" stroke-width="1.3"/>
<line x1="317" y1="148.19" x2="317" y2="173.16" stroke="#b3b3b3" stroke-width="1.3"/>
<line x1="314.6" y1="148.19" x2="319.4" y2="148.19" stroke="#b3b3b3" stroke-width="1.3"/>
<line x1="314.6" y1="173.16" x2="319.4" y2="173.16" stroke="#b3b3b3" stroke-width="1.3"/>
<line x1="350.68" y1="134.04" x2="350.68" y2="173.99" stroke="#b3b3b3" stroke-width="1.3"/>
<line x1="348.28" y1="134.04" x2="353.08" y2="134.04" stroke="#b3b3b3" stroke-width="1.3"/>
<line x1="348.28" y1="173.99" x2="353.08" y2="173.99" stroke="#b3b3b3" stroke-width="1.3"/>
<line x1="384.36" y1="139.03" x2="384.36" y2="173.99" stroke="#b3b3b3" stroke-width="1.3"/>
<line x1="381.96" y1="139.03" x2="386.76" y2="139.03" stroke="#b3b3b3" stroke-width="1.3"/>
<line x1="381.96" y1="173.99" x2="386.76" y2="173.99" stroke="#b3b3b3" stroke-width="1.3"/>
<line x1="418.04" y1="130.71" x2="418.04" y2="157.34" stroke="#b3b3b3" stroke-width="1.3"/>
<line x1="415.64" y1="130.71" x2="420.44" y2="130.71" stroke="#b3b3b3" stroke-width="1.3"/>
<line x1="415.64" y1="157.34" x2="420.44" y2="157.34" stroke="#b3b3b3" stroke-width="1.3"/>
<line x1="451.72" y1="133.2" x2="451.72" y2="158.18" stroke="#b3b3b3" stroke-width="1.3"/>
<line x1="449.32" y1="133.2" x2="454.12" y2="133.2" stroke="#b3b3b3" stroke-width="1.3"/>
<line x1="449.32" y1="158.18" x2="454.12" y2="158.18" stroke="#b3b3b3" stroke-width="1.3"/>
<line x1="485.4" y1="129.46" x2="485.4" y2="154.43" stroke="#b3b3b3" stroke-width="1.3"/>
<line x1="483" y1="129.46" x2="487.8" y2="129.46" stroke="#b3b3b3" stroke-width="1.3"/>
<line x1="483" y1="154.43" x2="487.8" y2="154.43" stroke="#b3b3b3" stroke-width="1.3"/>
<line x1="519.08" y1="137.37" x2="519.08" y2="162.34" stroke="#b3b3b3" stroke-width="1.3"/>
<line x1="516.68" y1="137.37" x2="521.48" y2="137.37" stroke="#b3b3b3" stroke-width="1.3"/>
<line x1="516.68" y1="162.34" x2="521.48" y2="162.34" stroke="#b3b3b3" stroke-width="1.3"/>
<line x1="552.76" y1="146.52" x2="552.76" y2="163.17" stroke="#b3b3b3" stroke-width="1.3"/>
<line x1="550.36" y1="146.52" x2="555.16" y2="146.52" stroke="#b3b3b3" stroke-width="1.3"/>
<line x1="550.36" y1="163.17" x2="555.16" y2="163.17" stroke="#b3b3b3" stroke-width="1.3"/>
<line x1="586.44" y1="137.37" x2="586.44" y2="159.01" stroke="#b3b3b3" stroke-width="1.3"/>
<line x1="584.04" y1="137.37" x2="588.84" y2="137.37" stroke="#b3b3b3" stroke-width="1.3"/>
<line x1="584.04" y1="159.01" x2="588.84" y2="159.01" stroke="#b3b3b3" stroke-width="1.3"/>
<line x1="620.12" y1="135.28" x2="620.12" y2="165.25" stroke="#b3b3b3" stroke-width="1.3"/>
<line x1="617.72" y1="135.28" x2="622.52" y2="135.28" stroke="#b3b3b3" stroke-width="1.3"/>
<line x1="617.72" y1="165.25" x2="622.52" y2="165.25" stroke="#b3b3b3" stroke-width="1.3"/>
<line x1="653.8" y1="141.03" x2="653.8" y2="161.01" stroke="#b3b3b3" stroke-width="1.3"/>
<line x1="651.4" y1="141.03" x2="656.2" y2="141.03" stroke="#b3b3b3" stroke-width="1.3"/>
<line x1="651.4" y1="161.01" x2="656.2" y2="161.01" stroke="#b3b3b3" stroke-width="1.3"/>
<path d="M317 159.84 L350.68 119.89 L384.36 108.23 L418.04 99.41 L451.72 101.57 L485.4 127.38 L519.08 134.04 L552.76 149.27 L586.44 148.19 L620.12 145.69 L653.8 144.02" fill="none" stroke="#2b2be3" stroke-width="1.4" stroke-dasharray="3.2 2.4"/>
<circle cx="317" cy="159.84" r="2.65" fill="none" stroke="#2b2be3" stroke-width="1.25"/>
<circle cx="350.68" cy="119.89" r="2.65" fill="none" stroke="#2b2be3" stroke-width="1.25"/>
<circle cx="384.36" cy="108.23" r="2.65" fill="none" stroke="#2b2be3" stroke-width="1.25"/>
<circle cx="418.04" cy="99.41" r="2.65" fill="none" stroke="#2b2be3" stroke-width="1.25"/>
<circle cx="451.72" cy="101.57" r="2.65" fill="none" stroke="#2b2be3" stroke-width="1.25"/>
<circle cx="485.4" cy="127.38" r="2.65" fill="none" stroke="#2b2be3" stroke-width="1.25"/>
<circle cx="519.08" cy="134.04" r="2.65" fill="none" stroke="#2b2be3" stroke-width="1.25"/>
<circle cx="552.76" cy="149.27" r="2.65" fill="none" stroke="#2b2be3" stroke-width="1.25"/>
<circle cx="586.44" cy="148.19" r="2.65" fill="none" stroke="#2b2be3" stroke-width="1.25"/>
<circle cx="620.12" cy="145.69" r="2.65" fill="none" stroke="#2b2be3" stroke-width="1.25"/>
<circle cx="653.8" cy="144.02" r="2.65" fill="none" stroke="#2b2be3" stroke-width="1.25"/>
<path d="M317 157.34 L350.68 132.37 L384.36 117.39 L418.04 113.73 L451.72 112.73 L485.4 122.38 L519.08 146.52 L552.76 140.11 L586.44 144.86 L620.12 149.85 L653.8 154.85" fill="none" stroke="#4b9ea0" stroke-width="1.4" stroke-dasharray="3.2 2.4"/>
<circle cx="317" cy="157.34" r="2.65" fill="none" stroke="#4b9ea0" stroke-width="1.25"/>
<circle cx="350.68" cy="132.37" r="2.65" fill="none" stroke="#4b9ea0" stroke-width="1.25"/>
<circle cx="384.36" cy="117.39" r="2.65" fill="none" stroke="#4b9ea0" stroke-width="1.25"/>
<circle cx="418.04" cy="113.73" r="2.65" fill="none" stroke="#4b9ea0" stroke-width="1.25"/>
<circle cx="451.72" cy="112.73" r="2.65" fill="none" stroke="#4b9ea0" stroke-width="1.25"/>
<circle cx="485.4" cy="122.38" r="2.65" fill="none" stroke="#4b9ea0" stroke-width="1.25"/>
<circle cx="519.08" cy="146.52" r="2.65" fill="none" stroke="#4b9ea0" stroke-width="1.25"/>
<circle cx="552.76" cy="140.11" r="2.65" fill="none" stroke="#4b9ea0" stroke-width="1.25"/>
<circle cx="586.44" cy="144.86" r="2.65" fill="none" stroke="#4b9ea0" stroke-width="1.25"/>
<circle cx="620.12" cy="149.85" r="2.65" fill="none" stroke="#4b9ea0" stroke-width="1.25"/>
<circle cx="653.8" cy="154.85" r="2.65" fill="none" stroke="#4b9ea0" stroke-width="1.25"/>
<path d="M317 158.18 L350.68 128.21 L384.36 125.71 L418.04 134.87 L451.72 119.89 L485.4 117.39 L519.08 123.21 L552.76 120.3 L586.44 121.13 L620.12 123.63 L653.8 123.21" fill="none" stroke="#ee8244" stroke-width="1.4" stroke-dasharray="3.2 2.4"/>
<circle cx="317" cy="158.18" r="2.65" fill="none" stroke="#ee8244" stroke-width="1.25"/>
<circle cx="350.68" cy="128.21" r="2.65" fill="none" stroke="#ee8244" stroke-width="1.25"/>
<circle cx="384.36" cy="125.71" r="2.65" fill="none" stroke="#ee8244" stroke-width="1.25"/>
<circle cx="418.04" cy="134.87" r="2.65" fill="none" stroke="#ee8244" stroke-width="1.25"/>
<circle cx="451.72" cy="119.89" r="2.65" fill="none" stroke="#ee8244" stroke-width="1.25"/>
<circle cx="485.4" cy="117.39" r="2.65" fill="none" stroke="#ee8244" stroke-width="1.25"/>
<circle cx="519.08" cy="123.21" r="2.65" fill="none" stroke="#ee8244" stroke-width="1.25"/>
<circle cx="552.76" cy="120.3" r="2.65" fill="none" stroke="#ee8244" stroke-width="1.25"/>
<circle cx="586.44" cy="121.13" r="2.65" fill="none" stroke="#ee8244" stroke-width="1.25"/>
<circle cx="620.12" cy="123.63" r="2.65" fill="none" stroke="#ee8244" stroke-width="1.25"/>
<circle cx="653.8" cy="123.21" r="2.65" fill="none" stroke="#ee8244" stroke-width="1.25"/>
<path d="M317 159.84 L350.68 149.02 L384.36 139.86 L418.04 152.35 L451.72 149.85 L485.4 142.36 L519.08 148.19 L552.76 144.02 L586.44 153.18 L620.12 149.85 L653.8 152.35" fill="none" stroke="#6d6d6d" stroke-width="1.4" stroke-dasharray="3.2 2.4"/>
<circle cx="317" cy="159.84" r="2.65" fill="none" stroke="#6d6d6d" stroke-width="1.25"/>
<circle cx="350.68" cy="149.02" r="2.65" fill="none" stroke="#6d6d6d" stroke-width="1.25"/>
<circle cx="384.36" cy="139.86" r="2.65" fill="none" stroke="#6d6d6d" stroke-width="1.25"/>
<circle cx="418.04" cy="152.35" r="2.65" fill="none" stroke="#6d6d6d" stroke-width="1.25"/>
<circle cx="451.72" cy="149.85" r="2.65" fill="none" stroke="#6d6d6d" stroke-width="1.25"/>
<circle cx="485.4" cy="142.36" r="2.65" fill="none" stroke="#6d6d6d" stroke-width="1.25"/>
<circle cx="519.08" cy="148.19" r="2.65" fill="none" stroke="#6d6d6d" stroke-width="1.25"/>
<circle cx="552.76" cy="144.02" r="2.65" fill="none" stroke="#6d6d6d" stroke-width="1.25"/>
<circle cx="586.44" cy="153.18" r="2.65" fill="none" stroke="#6d6d6d" stroke-width="1.25"/>
<circle cx="620.12" cy="149.85" r="2.65" fill="none" stroke="#6d6d6d" stroke-width="1.25"/>
<circle cx="653.8" cy="152.35" r="2.65" fill="none" stroke="#6d6d6d" stroke-width="1.25"/>
<path d="M317 160.67 L350.68 154.01 L384.36 156.51 L418.04 144.02 L451.72 145.69 L485.4 141.94 L519.08 149.85 L552.76 154.85 L586.44 148.19 L620.12 150.27 L653.8 151.02" fill="none" stroke="#b3b3b3" stroke-width="1.4" stroke-dasharray="3.2 2.4"/>
<circle cx="317" cy="160.67" r="2.65" fill="none" stroke="#b3b3b3" stroke-width="1.25"/>
<circle cx="350.68" cy="154.01" r="2.65" fill="none" stroke="#b3b3b3" stroke-width="1.25"/>
<circle cx="384.36" cy="156.51" r="2.65" fill="none" stroke="#b3b3b3" stroke-width="1.25"/>
<circle cx="418.04" cy="144.02" r="2.65" fill="none" stroke="#b3b3b3" stroke-width="1.25"/>
<circle cx="451.72" cy="145.69" r="2.65" fill="none" stroke="#b3b3b3" stroke-width="1.25"/>
<circle cx="485.4" cy="141.94" r="2.65" fill="none" stroke="#b3b3b3" stroke-width="1.25"/>
<circle cx="519.08" cy="149.85" r="2.65" fill="none" stroke="#b3b3b3" stroke-width="1.25"/>
<circle cx="552.76" cy="154.85" r="2.65" fill="none" stroke="#b3b3b3" stroke-width="1.25"/>
<circle cx="586.44" cy="148.19" r="2.65" fill="none" stroke="#b3b3b3" stroke-width="1.25"/>
<circle cx="620.12" cy="150.27" r="2.65" fill="none" stroke="#b3b3b3" stroke-width="1.25"/>
<circle cx="653.8" cy="151.02" r="2.65" fill="none" stroke="#b3b3b3" stroke-width="1.25"/>
<line x1="300.9" y1="24.9" x2="303.6" y2="24.9" stroke="#b3b3b3" stroke-width="1.4"/>
<line x1="311.9" y1="24.9" x2="313.7" y2="24.9" stroke="#b3b3b3" stroke-width="1.4"/>
<circle cx="306.9" cy="24.9" r="2.5" fill="none" stroke="#b3b3b3" stroke-width="1.5"/>
<line x1="305.6" y1="24.9" x2="309.4" y2="24.9" stroke="#b3b3b3" stroke-width="1"/>
<text x="320.7" y="28.2" font-size="9.8" fill="#1a1a1a">WT</text>
<line x1="300.9" y1="34.8" x2="303.6" y2="34.8" stroke="#6d6d6d" stroke-width="1.4"/>
<line x1="311.9" y1="34.8" x2="313.7" y2="34.8" stroke="#6d6d6d" stroke-width="1.4"/>
<circle cx="306.9" cy="34.8" r="2.5" fill="none" stroke="#6d6d6d" stroke-width="1.5"/>
<line x1="305.6" y1="34.8" x2="309.4" y2="34.8" stroke="#6d6d6d" stroke-width="1"/>
<text x="320.7" y="38" font-size="9.8" fill="#1a1a1a">WT (EGFP)</text>
<line x1="300.9" y1="44.5" x2="303.6" y2="44.5" stroke="#ee8244" stroke-width="1.4"/>
<line x1="311.9" y1="44.5" x2="313.7" y2="44.5" stroke="#ee8244" stroke-width="1.4"/>
<circle cx="306.9" cy="44.5" r="2.5" fill="none" stroke="#ee8244" stroke-width="1.5"/>
<line x1="305.6" y1="44.5" x2="309.4" y2="44.5" stroke="#ee8244" stroke-width="1"/>
<text x="320.7" y="47.5" font-size="9.8" fill="#1a1a1a">G+PBS</text>
<line x1="300.9" y1="54.1" x2="303.6" y2="54.1" stroke="#4b9ea0" stroke-width="1.4"/>
<line x1="311.9" y1="54.1" x2="313.7" y2="54.1" stroke="#4b9ea0" stroke-width="1.4"/>
<circle cx="306.9" cy="54.1" r="2.5" fill="none" stroke="#4b9ea0" stroke-width="1.5"/>
<line x1="305.6" y1="54.1" x2="309.4" y2="54.1" stroke="#4b9ea0" stroke-width="1"/>
<text x="320.7" y="58.6" font-size="9.8" fill="#1a1a1a">G with 22.8 % ITGA6<tspan dy="-3.8" font-size="7">+</tspan></text>
<line x1="300.9" y1="64" x2="303.6" y2="64" stroke="#2b2be3" stroke-width="1.4"/>
<line x1="311.9" y1="64" x2="313.7" y2="64" stroke="#2b2be3" stroke-width="1.4"/>
<circle cx="306.9" cy="64" r="2.5" fill="none" stroke="#2b2be3" stroke-width="1.5"/>
<line x1="305.6" y1="64" x2="309.4" y2="64" stroke="#2b2be3" stroke-width="1"/>
<text x="320.7" y="68.4" font-size="9.8" fill="#1a1a1a">G with 40.6% ITGA6<tspan dy="-3.8" font-size="7">+</tspan></text>
<text x="399.2" y="38.2" font-size="10.5" font-weight="bold" fill="#000"><tspan font-style="italic">P</tspan> = 0.0000000004</text>
<text x="515" y="42.6" font-size="10.5" font-weight="bold" fill="#000"><tspan font-style="italic">P</tspan> = 0.00000000002</text>
<text x="429.8" y="47.9" font-size="10" fill="#222" letter-spacing="1.35">****</text>
<text x="489.6" y="46" font-size="10" fill="#222" letter-spacing="1.35">****</text>
<text x="430" y="52.2" font-size="7.5" fill="#333">(40.6 vs. G)</text>
<text x="489.6" y="51.6" font-size="7.5" fill="#333">(22.8 vs. G)</text>
<text x="438.5" y="59.8" font-size="9.4" fill="#222">ns</text>
<text x="438.2" y="67.6" font-size="7.5" fill="#333">(40.6 vs. 22.8)</text>
<line x1="426.6" y1="45.7" x2="426.6" y2="67.4" stroke="#111" stroke-width="1.5"/>
<line x1="432.8" y1="55" x2="432.8" y2="67.4" stroke="#111" stroke-width="1.5"/>
<line x1="486.6" y1="42.2" x2="486.6" y2="56.2" stroke="#111" stroke-width="1.5"/>
<rect x="61.6" y="300.3" width="273.6" height="54.6" fill="#e8e9e9"/>
<rect x="61.6" y="354.9" width="273.4" height="129.9" fill="#fbf1f1"/>
<line x1="99.1" y1="355.5" x2="99.1" y2="484.4" stroke="#444" stroke-width="0.9" stroke-dasharray="1 2"/>
<line x1="138.3" y1="355.5" x2="138.3" y2="484.4" stroke="#444" stroke-width="0.9" stroke-dasharray="1 2"/>
<line x1="177.5" y1="355.5" x2="177.5" y2="484.4" stroke="#444" stroke-width="0.9" stroke-dasharray="1 2"/>
<line x1="216.7" y1="355.5" x2="216.7" y2="484.4" stroke="#444" stroke-width="0.9" stroke-dasharray="1 2"/>
<line x1="255.9" y1="355.5" x2="255.9" y2="484.4" stroke="#444" stroke-width="0.9" stroke-dasharray="1 2"/>
<line x1="295.1" y1="355.5" x2="295.1" y2="484.4" stroke="#444" stroke-width="0.9" stroke-dasharray="1 2"/>
<line x1="61.6" y1="394.35" x2="333.6" y2="394.35" stroke="#333" stroke-width="0.9" stroke-dasharray="1.2 1.8"/>
<line x1="60.6" y1="303.5" x2="60.6" y2="485.6" stroke="#3a3a3a" stroke-width="1.4"/>
<line x1="60" y1="484.9" x2="333.6" y2="484.9" stroke="#3a3a3a" stroke-width="1.4"/>
<line x1="57.6" y1="303.8" x2="60.6" y2="303.8" stroke="#3a3a3a" stroke-width="1.1"/>
<text x="56.6" y="307.7" font-size="11.2" text-anchor="end" fill="#111">100</text>
<line x1="57.6" y1="321.91" x2="60.6" y2="321.91" stroke="#3a3a3a" stroke-width="1.1"/>
<text x="56.6" y="325.81" font-size="11.2" text-anchor="end" fill="#111">80</text>
<line x1="57.6" y1="340.02" x2="60.6" y2="340.02" stroke="#3a3a3a" stroke-width="1.1"/>
<text x="56.6" y="343.92" font-size="11.2" text-anchor="end" fill="#111">60</text>
<line x1="57.6" y1="358.13" x2="60.6" y2="358.13" stroke="#3a3a3a" stroke-width="1.1"/>
<text x="56.6" y="362.03" font-size="11.2" text-anchor="end" fill="#111">40</text>
<line x1="57.6" y1="376.24" x2="60.6" y2="376.24" stroke="#3a3a3a" stroke-width="1.1"/>
<text x="56.6" y="380.14" font-size="11.2" text-anchor="end" fill="#111">20</text>
<line x1="57.6" y1="394.35" x2="60.6" y2="394.35" stroke="#3a3a3a" stroke-width="1.1"/>
<text x="56.6" y="398.25" font-size="11.2" text-anchor="end" fill="#111">0</text>
<line x1="57.6" y1="412.46" x2="60.6" y2="412.46" stroke="#3a3a3a" stroke-width="1.1"/>
<text x="56.6" y="416.36" font-size="11.2" text-anchor="end" fill="#111">-20</text>
<line x1="57.6" y1="430.57" x2="60.6" y2="430.57" stroke="#3a3a3a" stroke-width="1.1"/>
<text x="56.6" y="434.47" font-size="11.2" text-anchor="end" fill="#111">-40</text>
<line x1="57.6" y1="448.68" x2="60.6" y2="448.68" stroke="#3a3a3a" stroke-width="1.1"/>
<text x="56.6" y="452.58" font-size="11.2" text-anchor="end" fill="#111">-60</text>
<line x1="57.6" y1="466.79" x2="60.6" y2="466.79" stroke="#3a3a3a" stroke-width="1.1"/>
<text x="56.6" y="470.69" font-size="11.2" text-anchor="end" fill="#111">-80</text>
<line x1="57.6" y1="484.9" x2="60.6" y2="484.9" stroke="#3a3a3a" stroke-width="1.1"/>
<text x="56.6" y="488.8" font-size="11.2" text-anchor="end" fill="#111">-100</text>
<line x1="79" y1="484.9" x2="79" y2="488.4" stroke="#3a3a3a" stroke-width="1.1"/>
<text x="82.9" y="496.8" font-size="11.5" text-anchor="end" fill="#111" transform="rotate(-45 82.9 496.8)">25</text>
<line x1="118.2" y1="484.9" x2="118.2" y2="488.4" stroke="#3a3a3a" stroke-width="1.1"/>
<text x="122.1" y="496.8" font-size="11.5" text-anchor="end" fill="#111" transform="rotate(-45 122.1 496.8)">35</text>
<line x1="157.4" y1="484.9" x2="157.4" y2="488.4" stroke="#3a3a3a" stroke-width="1.1"/>
<text x="161.3" y="496.8" font-size="11.5" text-anchor="end" fill="#111" transform="rotate(-45 161.3 496.8)">42</text>
<line x1="196.6" y1="484.9" x2="196.6" y2="488.4" stroke="#3a3a3a" stroke-width="1.1"/>
<text x="200.5" y="496.8" font-size="11.5" text-anchor="end" fill="#111" transform="rotate(-45 200.5 496.8)">49</text>
<line x1="235.8" y1="484.9" x2="235.8" y2="488.4" stroke="#3a3a3a" stroke-width="1.1"/>
<text x="239.7" y="496.8" font-size="11.5" text-anchor="end" fill="#111" transform="rotate(-45 239.7 496.8)">56</text>
<line x1="275" y1="484.9" x2="275" y2="488.4" stroke="#3a3a3a" stroke-width="1.1"/>
<text x="278.9" y="496.8" font-size="11.5" text-anchor="end" fill="#111" transform="rotate(-45 278.9 496.8)">63</text>
<line x1="314.2" y1="484.9" x2="314.2" y2="488.4" stroke="#3a3a3a" stroke-width="1.1"/>
<text x="318.1" y="496.8" font-size="11.5" text-anchor="end" fill="#111" transform="rotate(-45 318.1 496.8)">70</text>
<text x="197" y="522.4" font-size="12.8" text-anchor="middle" fill="#111">Days</text>
<text x="28" y="392" font-size="14.2" text-anchor="middle" fill="#111" transform="rotate(-90 28 392)">Percentage of dIOP (%)</text>
<line x1="65.2" y1="387.29" x2="65.2" y2="407.03" stroke="#b4b4b4" stroke-width="1"/>
<rect x="63.2" y="388.92" width="4" height="15.39" fill="#fbf1f1" stroke="#b4b4b4" stroke-width="1.2"/>
<line x1="63.2" y1="397.07" x2="67.2" y2="397.07" stroke="#b4b4b4" stroke-width="1"/>
<circle cx="64.77" cy="407.03" r="1.4" fill="#fbf1f1" stroke="#b4b4b4" stroke-width="1"/>
<circle cx="64.71" cy="387.29" r="1.4" fill="#fbf1f1" stroke="#b4b4b4" stroke-width="1"/>
<circle cx="65.54" cy="400.65" r="1.4" fill="#fbf1f1" stroke="#b4b4b4" stroke-width="1"/>
<circle cx="64.96" cy="395.93" r="1.4" fill="#fbf1f1" stroke="#b4b4b4" stroke-width="1"/>
<circle cx="64.93" cy="398.62" r="1.4" fill="#fbf1f1" stroke="#b4b4b4" stroke-width="1"/>
<circle cx="65.7" cy="395.01" r="1.4" fill="#fbf1f1" stroke="#b4b4b4" stroke-width="1"/>
<circle cx="65.17" cy="394.68" r="1.4" fill="#fbf1f1" stroke="#b4b4b4" stroke-width="1"/>
<circle cx="65.54" cy="404.31" r="1.4" fill="#fbf1f1" stroke="#b4b4b4" stroke-width="1"/>
<circle cx="65.18" cy="388.92" r="1.4" fill="#fbf1f1" stroke="#b4b4b4" stroke-width="1"/>
<circle cx="65.2" cy="387.29" r="1.5" fill="#b4b4b4"/>
<circle cx="65.2" cy="407.03" r="1.5" fill="#b4b4b4"/>
<line x1="72.1" y1="384.21" x2="72.1" y2="410.83" stroke="#6a6a6a" stroke-width="1"/>
<rect x="70.1" y="385.66" width="4" height="14.49" fill="#fbf1f1" stroke="#6a6a6a" stroke-width="1.2"/>
<line x1="70.1" y1="393.44" x2="74.1" y2="393.44" stroke="#6a6a6a" stroke-width="1"/>
<circle cx="72.34" cy="410.83" r="1.4" fill="#fbf1f1" stroke="#6a6a6a" stroke-width="1"/>
<circle cx="72.27" cy="384.21" r="1.4" fill="#fbf1f1" stroke="#6a6a6a" stroke-width="1"/>
<circle cx="71.66" cy="390.89" r="1.4" fill="#fbf1f1" stroke="#6a6a6a" stroke-width="1"/>
<circle cx="72.36" cy="397.96" r="1.4" fill="#fbf1f1" stroke="#6a6a6a" stroke-width="1"/>
<circle cx="72.19" cy="390.95" r="1.4" fill="#fbf1f1" stroke="#6a6a6a" stroke-width="1"/>
<circle cx="71.9" cy="387.57" r="1.4" fill="#fbf1f1" stroke="#6a6a6a" stroke-width="1"/>
<circle cx="71.63" cy="392.57" r="1.4" fill="#fbf1f1" stroke="#6a6a6a" stroke-width="1"/>
<circle cx="72.47" cy="400.15" r="1.4" fill="#fbf1f1" stroke="#6a6a6a" stroke-width="1"/>
<circle cx="72.07" cy="385.66" r="1.4" fill="#fbf1f1" stroke="#6a6a6a" stroke-width="1"/>
<circle cx="72.1" cy="384.21" r="1.5" fill="#6a6a6a"/>
<circle cx="72.1" cy="410.83" r="1.5" fill="#6a6a6a"/>
<line x1="79" y1="378.05" x2="79" y2="404.76" stroke="#f26b2c" stroke-width="1"/>
<rect x="77" y="388.01" width="4" height="13.58" fill="#fbf1f1" stroke="#f26b2c" stroke-width="1.2"/>
<line x1="77" y1="395.26" x2="81" y2="395.26" stroke="#f26b2c" stroke-width="1"/>
<circle cx="79.3" cy="404.76" r="1.4" fill="#fbf1f1" stroke="#f26b2c" stroke-width="1"/>
<circle cx="78.94" cy="378.05" r="1.4" fill="#fbf1f1" stroke="#f26b2c" stroke-width="1"/>
<circle cx="79.44" cy="391.83" r="1.4" fill="#fbf1f1" stroke="#f26b2c" stroke-width="1"/>
<circle cx="79.38" cy="389.66" r="1.4" fill="#fbf1f1" stroke="#f26b2c" stroke-width="1"/>
<circle cx="78.6" cy="391.89" r="1.4" fill="#fbf1f1" stroke="#f26b2c" stroke-width="1"/>
<circle cx="78.64" cy="389.08" r="1.4" fill="#fbf1f1" stroke="#f26b2c" stroke-width="1"/>
<circle cx="78.72" cy="396.23" r="1.4" fill="#fbf1f1" stroke="#f26b2c" stroke-width="1"/>
<circle cx="79.47" cy="401.59" r="1.4" fill="#fbf1f1" stroke="#f26b2c" stroke-width="1"/>
<circle cx="78.94" cy="388.01" r="1.4" fill="#fbf1f1" stroke="#f26b2c" stroke-width="1"/>
<circle cx="79" cy="378.05" r="1.5" fill="#f26b2c"/>
<circle cx="79" cy="404.76" r="1.5" fill="#f26b2c"/>
<line x1="86" y1="382.67" x2="86" y2="404.76" stroke="#419b9d" stroke-width="1"/>
<rect x="84" y="386.2" width="4" height="12.68" fill="#fbf1f1" stroke="#419b9d" stroke-width="1.2"/>
<line x1="84" y1="392.54" x2="88" y2="392.54" stroke="#419b9d" stroke-width="1"/>
<circle cx="86.09" cy="404.76" r="1.4" fill="#fbf1f1" stroke="#419b9d" stroke-width="1"/>
<circle cx="86.08" cy="382.67" r="1.4" fill="#fbf1f1" stroke="#419b9d" stroke-width="1"/>
<circle cx="86.4" cy="390.93" r="1.4" fill="#fbf1f1" stroke="#419b9d" stroke-width="1"/>
<circle cx="86.18" cy="395.06" r="1.4" fill="#fbf1f1" stroke="#419b9d" stroke-width="1"/>
<circle cx="86.43" cy="392.45" r="1.4" fill="#fbf1f1" stroke="#419b9d" stroke-width="1"/>
<circle cx="86.36" cy="393.99" r="1.4" fill="#fbf1f1" stroke="#419b9d" stroke-width="1"/>
<circle cx="86.49" cy="394.43" r="1.4" fill="#fbf1f1" stroke="#419b9d" stroke-width="1"/>
<circle cx="86.17" cy="398.88" r="1.4" fill="#fbf1f1" stroke="#419b9d" stroke-width="1"/>
<circle cx="85.66" cy="386.2" r="1.4" fill="#fbf1f1" stroke="#419b9d" stroke-width="1"/>
<circle cx="86" cy="382.67" r="1.5" fill="#419b9d"/>
<circle cx="86" cy="404.76" r="1.5" fill="#419b9d"/>
<line x1="93" y1="385.75" x2="93" y2="410.02" stroke="#2626e6" stroke-width="1"/>
<rect x="91" y="387.11" width="4" height="18.11" fill="#fbf1f1" stroke="#2626e6" stroke-width="1.2"/>
<line x1="91" y1="396.16" x2="95" y2="396.16" stroke="#2626e6" stroke-width="1"/>
<circle cx="92.71" cy="410.02" r="1.4" fill="#fbf1f1" stroke="#2626e6" stroke-width="1"/>
<circle cx="93.33" cy="385.75" r="1.4" fill="#fbf1f1" stroke="#2626e6" stroke-width="1"/>
<circle cx="93.07" cy="389.63" r="1.4" fill="#fbf1f1" stroke="#2626e6" stroke-width="1"/>
<circle cx="92.78" cy="387.75" r="1.4" fill="#fbf1f1" stroke="#2626e6" stroke-width="1"/>
<circle cx="92.56" cy="388.83" r="1.4" fill="#fbf1f1" stroke="#2626e6" stroke-width="1"/>
<circle cx="93.35" cy="394.91" r="1.4" fill="#fbf1f1" stroke="#2626e6" stroke-width="1"/>
<circle cx="93.49" cy="392.29" r="1.4" fill="#fbf1f1" stroke="#2626e6" stroke-width="1"/>
<circle cx="92.59" cy="405.22" r="1.4" fill="#fbf1f1" stroke="#2626e6" stroke-width="1"/>
<circle cx="93.3" cy="387.11" r="1.4" fill="#fbf1f1" stroke="#2626e6" stroke-width="1"/>
<circle cx="93" cy="385.75" r="1.5" fill="#2626e6"/>
<circle cx="93" cy="410.02" r="1.5" fill="#2626e6"/>
<line x1="104.4" y1="386.65" x2="104.4" y2="406.12" stroke="#b4b4b4" stroke-width="1"/>
<rect x="102.4" y="388.92" width="4" height="14.49" fill="#fbf1f1" stroke="#b4b4b4" stroke-width="1.2"/>
<line x1="102.4" y1="396.16" x2="106.4" y2="396.16" stroke="#b4b4b4" stroke-width="1"/>
<circle cx="103.94" cy="406.12" r="1.4" fill="#fbf1f1" stroke="#b4b4b4" stroke-width="1"/>
<circle cx="104.51" cy="386.65" r="1.4" fill="#fbf1f1" stroke="#b4b4b4" stroke-width="1"/>
<circle cx="103.94" cy="397.46" r="1.4" fill="#fbf1f1" stroke="#b4b4b4" stroke-width="1"/>
<circle cx="104.62" cy="401.22" r="1.4" fill="#fbf1f1" stroke="#b4b4b4" stroke-width="1"/>
<circle cx="104.23" cy="399.15" r="1.4" fill="#fbf1f1" stroke="#b4b4b4" stroke-width="1"/>
<circle cx="104.78" cy="392.27" r="1.4" fill="#fbf1f1" stroke="#b4b4b4" stroke-width="1"/>
<circle cx="104.88" cy="390.76" r="1.4" fill="#fbf1f1" stroke="#b4b4b4" stroke-width="1"/>
<circle cx="104.41" cy="403.41" r="1.4" fill="#fbf1f1" stroke="#b4b4b4" stroke-width="1"/>
<circle cx="104.9" cy="388.92" r="1.4" fill="#fbf1f1" stroke="#b4b4b4" stroke-width="1"/>
<circle cx="104.4" cy="386.65" r="1.5" fill="#b4b4b4"/>
<circle cx="104.4" cy="406.12" r="1.5" fill="#b4b4b4"/>
<line x1="111.3" y1="384.84" x2="111.3" y2="408.39" stroke="#6a6a6a" stroke-width="1"/>
<rect x="109.3" y="386.2" width="4" height="12.68" fill="#fbf1f1" stroke="#6a6a6a" stroke-width="1.2"/>
<line x1="109.3" y1="392.54" x2="113.3" y2="392.54" stroke="#6a6a6a" stroke-width="1"/>
<circle cx="111.21" cy="408.39" r="1.4" fill="#fbf1f1" stroke="#6a6a6a" stroke-width="1"/>
<circle cx="111.41" cy="384.84" r="1.4" fill="#fbf1f1" stroke="#6a6a6a" stroke-width="1"/>
<circle cx="110.96" cy="394.95" r="1.4" fill="#fbf1f1" stroke="#6a6a6a" stroke-width="1"/>
<circle cx="110.84" cy="397.9" r="1.4" fill="#fbf1f1" stroke="#6a6a6a" stroke-width="1"/>
<circle cx="111.67" cy="391.27" r="1.4" fill="#fbf1f1" stroke="#6a6a6a" stroke-width="1"/>
<circle cx="111.11" cy="398.48" r="1.4" fill="#fbf1f1" stroke="#6a6a6a" stroke-width="1"/>
<circle cx="111.76" cy="396.38" r="1.4" fill="#fbf1f1" stroke="#6a6a6a" stroke-width="1"/>
<circle cx="111.7" cy="398.88" r="1.4" fill="#fbf1f1" stroke="#6a6a6a" stroke-width="1"/>
<circle cx="111.18" cy="386.2" r="1.4" fill="#fbf1f1" stroke="#6a6a6a" stroke-width="1"/>
<circle cx="111.3" cy="384.84" r="1.5" fill="#6a6a6a"/>
<circle cx="111.3" cy="408.39" r="1.5" fill="#6a6a6a"/>
<line x1="118.2" y1="371.35" x2="118.2" y2="404.04" stroke="#f26b2c" stroke-width="1"/>
<rect x="116.2" y="389.82" width="4" height="9.96" fill="#fbf1f1" stroke="#f26b2c" stroke-width="1.2"/>
<line x1="116.2" y1="394.35" x2="120.2" y2="394.35" stroke="#f26b2c" stroke-width="1"/>
<circle cx="118.32" cy="404.04" r="1.4" fill="#fbf1f1" stroke="#f26b2c" stroke-width="1"/>
<circle cx="118.64" cy="371.35" r="1.4" fill="#fbf1f1" stroke="#f26b2c" stroke-width="1"/>
<circle cx="118.21" cy="395.2" r="1.4" fill="#fbf1f1" stroke="#f26b2c" stroke-width="1"/>
<circle cx="118.13" cy="394.6" r="1.4" fill="#fbf1f1" stroke="#f26b2c" stroke-width="1"/>
<circle cx="118.42" cy="393.37" r="1.4" fill="#fbf1f1" stroke="#f26b2c" stroke-width="1"/>
<circle cx="117.94" cy="393.85" r="1.4" fill="#fbf1f1" stroke="#f26b2c" stroke-width="1"/>
<circle cx="118" cy="394.21" r="1.4" fill="#fbf1f1" stroke="#f26b2c" stroke-width="1"/>
<circle cx="118.68" cy="399.78" r="1.4" fill="#fbf1f1" stroke="#f26b2c" stroke-width="1"/>
<circle cx="118.22" cy="389.82" r="1.4" fill="#fbf1f1" stroke="#f26b2c" stroke-width="1"/>
<circle cx="118.2" cy="371.35" r="1.5" fill="#f26b2c"/>
<circle cx="118.2" cy="404.04" r="1.5" fill="#f26b2c"/>
<line x1="125.2" y1="381.85" x2="125.2" y2="405.22" stroke="#419b9d" stroke-width="1"/>
<rect x="123.2" y="386.2" width="4" height="11.77" fill="#fbf1f1" stroke="#419b9d" stroke-width="1.2"/>
<line x1="123.2" y1="391.63" x2="127.2" y2="391.63" stroke="#419b9d" stroke-width="1"/>
<circle cx="125.32" cy="405.22" r="1.4" fill="#fbf1f1" stroke="#419b9d" stroke-width="1"/>
<circle cx="125.33" cy="381.85" r="1.4" fill="#fbf1f1" stroke="#419b9d" stroke-width="1"/>
<circle cx="124.76" cy="391.52" r="1.4" fill="#fbf1f1" stroke="#419b9d" stroke-width="1"/>
<circle cx="125.33" cy="397.84" r="1.4" fill="#fbf1f1" stroke="#419b9d" stroke-width="1"/>
<circle cx="125.17" cy="393.08" r="1.4" fill="#fbf1f1" stroke="#419b9d" stroke-width="1"/>
<circle cx="125.38" cy="391.14" r="1.4" fill="#fbf1f1" stroke="#419b9d" stroke-width="1"/>
<circle cx="125.05" cy="397.74" r="1.4" fill="#fbf1f1" stroke="#419b9d" stroke-width="1"/>
<circle cx="125.41" cy="397.97" r="1.4" fill="#fbf1f1" stroke="#419b9d" stroke-width="1"/>
<circle cx="125.44" cy="386.2" r="1.4" fill="#fbf1f1" stroke="#419b9d" stroke-width="1"/>
<circle cx="125.2" cy="381.85" r="1.5" fill="#419b9d"/>
<circle cx="125.2" cy="405.22" r="1.5" fill="#419b9d"/>
<line x1="132.2" y1="380.77" x2="132.2" y2="409.29" stroke="#2626e6" stroke-width="1"/>
<rect x="130.2" y="386.2" width="4" height="17.2" fill="#fbf1f1" stroke="#2626e6" stroke-width="1.2"/>
<line x1="130.2" y1="394.35" x2="134.2" y2="394.35" stroke="#2626e6" stroke-width="1"/>
<circle cx="132.16" cy="409.29" r="1.4" fill="#fbf1f1" stroke="#2626e6" stroke-width="1"/>
<circle cx="132.29" cy="380.77" r="1.4" fill="#fbf1f1" stroke="#2626e6" stroke-width="1"/>
<circle cx="132.02" cy="403.02" r="1.4" fill="#fbf1f1" stroke="#2626e6" stroke-width="1"/>
<circle cx="132.06" cy="402.36" r="1.4" fill="#fbf1f1" stroke="#2626e6" stroke-width="1"/>
<circle cx="132.01" cy="391.77" r="1.4" fill="#fbf1f1" stroke="#2626e6" stroke-width="1"/>
<circle cx="132.07" cy="386.83" r="1.4" fill="#fbf1f1" stroke="#2626e6" stroke-width="1"/>
<circle cx="132.3" cy="399.08" r="1.4" fill="#fbf1f1" stroke="#2626e6" stroke-width="1"/>
<circle cx="132" cy="403.41" r="1.4" fill="#fbf1f1" stroke="#2626e6" stroke-width="1"/>
<circle cx="132.08" cy="386.2" r="1.4" fill="#fbf1f1" stroke="#2626e6" stroke-width="1"/>
<circle cx="132.2" cy="380.77" r="1.5" fill="#2626e6"/>
<circle cx="132.2" cy="409.29" r="1.5" fill="#2626e6"/>
<line x1="143.6" y1="386.02" x2="143.6" y2="405.94" stroke="#b4b4b4" stroke-width="1"/>
<rect x="141.6" y="388.92" width="4" height="14.49" fill="#fbf1f1" stroke="#b4b4b4" stroke-width="1.2"/>
<line x1="141.6" y1="396.16" x2="145.6" y2="396.16" stroke="#b4b4b4" stroke-width="1"/>
<circle cx="143.32" cy="405.94" r="1.4" fill="#fbf1f1" stroke="#b4b4b4" stroke-width="1"/>
<circle cx="143.9" cy="386.02" r="1.4" fill="#fbf1f1" stroke="#b4b4b4" stroke-width="1"/>
<circle cx="143.34" cy="392.22" r="1.4" fill="#fbf1f1" stroke="#b4b4b4" stroke-width="1"/>
<circle cx="143.29" cy="403.01" r="1.4" fill="#fbf1f1" stroke="#b4b4b4" stroke-width="1"/>
<circle cx="143.54" cy="395.16" r="1.4" fill="#fbf1f1" stroke="#b4b4b4" stroke-width="1"/>
<circle cx="143.8" cy="392.75" r="1.4" fill="#fbf1f1" stroke="#b4b4b4" stroke-width="1"/>
<circle cx="143.2" cy="398.91" r="1.4" fill="#fbf1f1" stroke="#b4b4b4" stroke-width="1"/>
<circle cx="143.42" cy="403.41" r="1.4" fill="#fbf1f1" stroke="#b4b4b4" stroke-width="1"/>
<circle cx="143.43" cy="388.92" r="1.4" fill="#fbf1f1" stroke="#b4b4b4" stroke-width="1"/>
<circle cx="143.6" cy="386.02" r="1.5" fill="#b4b4b4"/>
<circle cx="143.6" cy="405.94" r="1.5" fill="#b4b4b4"/>
<line x1="150.5" y1="383.03" x2="150.5" y2="407.66" stroke="#6a6a6a" stroke-width="1"/>
<rect x="148.5" y="385.3" width="4" height="13.58" fill="#fbf1f1" stroke="#6a6a6a" stroke-width="1.2"/>
<line x1="148.5" y1="391.63" x2="152.5" y2="391.63" stroke="#6a6a6a" stroke-width="1"/>
<circle cx="150.65" cy="407.66" r="1.4" fill="#fbf1f1" stroke="#6a6a6a" stroke-width="1"/>
<circle cx="150.88" cy="383.03" r="1.4" fill="#fbf1f1" stroke="#6a6a6a" stroke-width="1"/>
<circle cx="150.45" cy="387.56" r="1.4" fill="#fbf1f1" stroke="#6a6a6a" stroke-width="1"/>
<circle cx="150.23" cy="392.92" r="1.4" fill="#fbf1f1" stroke="#6a6a6a" stroke-width="1"/>
<circle cx="150.12" cy="387.26" r="1.4" fill="#fbf1f1" stroke="#6a6a6a" stroke-width="1"/>
<circle cx="150.53" cy="396.58" r="1.4" fill="#fbf1f1" stroke="#6a6a6a" stroke-width="1"/>
<circle cx="150.19" cy="394.3" r="1.4" fill="#fbf1f1" stroke="#6a6a6a" stroke-width="1"/>
<circle cx="150.81" cy="398.88" r="1.4" fill="#fbf1f1" stroke="#6a6a6a" stroke-width="1"/>
<circle cx="150.84" cy="385.3" r="1.4" fill="#fbf1f1" stroke="#6a6a6a" stroke-width="1"/>
<circle cx="150.5" cy="383.03" r="1.5" fill="#6a6a6a"/>
<circle cx="150.5" cy="407.66" r="1.5" fill="#6a6a6a"/>
<line x1="157.4" y1="375.24" x2="157.4" y2="404.13" stroke="#f26b2c" stroke-width="1"/>
<rect x="155.4" y="389.82" width="4" height="9.96" fill="#fbf1f1" stroke="#f26b2c" stroke-width="1.2"/>
<line x1="155.4" y1="394.35" x2="159.4" y2="394.35" stroke="#f26b2c" stroke-width="1"/>
<circle cx="157.25" cy="404.13" r="1.4" fill="#fbf1f1" stroke="#f26b2c" stroke-width="1"/>
<circle cx="157.03" cy="375.24" r="1.4" fill="#fbf1f1" stroke="#f26b2c" stroke-width="1"/>
<circle cx="157.19" cy="397.95" r="1.4" fill="#fbf1f1" stroke="#f26b2c" stroke-width="1"/>
<circle cx="157.69" cy="397.01" r="1.4" fill="#fbf1f1" stroke="#f26b2c" stroke-width="1"/>
<circle cx="157.17" cy="391.74" r="1.4" fill="#fbf1f1" stroke="#f26b2c" stroke-width="1"/>
<circle cx="157.25" cy="393.39" r="1.4" fill="#fbf1f1" stroke="#f26b2c" stroke-width="1"/>
<circle cx="157.32" cy="391.75" r="1.4" fill="#fbf1f1" stroke="#f26b2c" stroke-width="1"/>
<circle cx="157.32" cy="399.78" r="1.4" fill="#fbf1f1" stroke="#f26b2c" stroke-width="1"/>
<circle cx="157.31" cy="389.82" r="1.4" fill="#fbf1f1" stroke="#f26b2c" stroke-width="1"/>
<circle cx="157.4" cy="375.24" r="1.5" fill="#f26b2c"/>
<circle cx="157.4" cy="404.13" r="1.5" fill="#f26b2c"/>
<line x1="164.4" y1="381.31" x2="164.4" y2="405.03" stroke="#419b9d" stroke-width="1"/>
<rect x="162.4" y="385.3" width="4" height="13.58" fill="#fbf1f1" stroke="#419b9d" stroke-width="1.2"/>
<line x1="162.4" y1="392.54" x2="166.4" y2="392.54" stroke="#419b9d" stroke-width="1"/>
<circle cx="164.89" cy="405.03" r="1.4" fill="#fbf1f1" stroke="#419b9d" stroke-width="1"/>
<circle cx="164.33" cy="381.31" r="1.4" fill="#fbf1f1" stroke="#419b9d" stroke-width="1"/>
<circle cx="164.85" cy="386.37" r="1.4" fill="#fbf1f1" stroke="#419b9d" stroke-width="1"/>
<circle cx="164.83" cy="396.76" r="1.4" fill="#fbf1f1" stroke="#419b9d" stroke-width="1"/>
<circle cx="164.12" cy="398.81" r="1.4" fill="#fbf1f1" stroke="#419b9d" stroke-width="1"/>
<circle cx="164.65" cy="386.07" r="1.4" fill="#fbf1f1" stroke="#419b9d" stroke-width="1"/>
<circle cx="164.74" cy="386.93" r="1.4" fill="#fbf1f1" stroke="#419b9d" stroke-width="1"/>
<circle cx="164.56" cy="398.88" r="1.4" fill="#fbf1f1" stroke="#419b9d" stroke-width="1"/>
<circle cx="164.42" cy="385.3" r="1.4" fill="#fbf1f1" stroke="#419b9d" stroke-width="1"/>
<circle cx="164.4" cy="381.31" r="1.5" fill="#419b9d"/>
<circle cx="164.4" cy="405.03" r="1.5" fill="#419b9d"/>
<line x1="171.4" y1="381.31" x2="171.4" y2="441.16" stroke="#2626e6" stroke-width="1"/>
<rect x="169.4" y="388.01" width="4" height="40.93" fill="#fbf1f1" stroke="#2626e6" stroke-width="1.2"/>
<line x1="169.4" y1="403.41" x2="173.4" y2="403.41" stroke="#2626e6" stroke-width="1"/>
<circle cx="171.19" cy="441.16" r="1.4" fill="#fbf1f1" stroke="#2626e6" stroke-width="1"/>
<circle cx="171.71" cy="381.31" r="1.4" fill="#fbf1f1" stroke="#2626e6" stroke-width="1"/>
<circle cx="170.95" cy="417.11" r="1.4" fill="#fbf1f1" stroke="#2626e6" stroke-width="1"/>
<circle cx="171.8" cy="414.98" r="1.4" fill="#fbf1f1" stroke="#2626e6" stroke-width="1"/>
<circle cx="171.59" cy="419.63" r="1.4" fill="#fbf1f1" stroke="#2626e6" stroke-width="1"/>
<circle cx="171.82" cy="426.15" r="1.4" fill="#fbf1f1" stroke="#2626e6" stroke-width="1"/>
<circle cx="171.8" cy="404.85" r="1.4" fill="#fbf1f1" stroke="#2626e6" stroke-width="1"/>
<circle cx="171.8" cy="428.94" r="1.4" fill="#fbf1f1" stroke="#2626e6" stroke-width="1"/>
<circle cx="171.48" cy="388.01" r="1.4" fill="#fbf1f1" stroke="#2626e6" stroke-width="1"/>
<circle cx="171.4" cy="381.31" r="1.5" fill="#2626e6"/>
<circle cx="171.4" cy="441.16" r="1.5" fill="#2626e6"/>
<line x1="182.8" y1="395.71" x2="182.8" y2="414.09" stroke="#b4b4b4" stroke-width="1"/>
<rect x="180.8" y="397.61" width="4" height="7.61" fill="#fbf1f1" stroke="#b4b4b4" stroke-width="1.2"/>
<line x1="180.8" y1="400.69" x2="184.8" y2="400.69" stroke="#b4b4b4" stroke-width="1"/>
<circle cx="182.82" cy="414.09" r="1.4" fill="#fbf1f1" stroke="#b4b4b4" stroke-width="1"/>
<circle cx="182.71" cy="395.71" r="1.4" fill="#fbf1f1" stroke="#b4b4b4" stroke-width="1"/>
<circle cx="183.24" cy="405.12" r="1.4" fill="#fbf1f1" stroke="#b4b4b4" stroke-width="1"/>
<circle cx="182.91" cy="399.55" r="1.4" fill="#fbf1f1" stroke="#b4b4b4" stroke-width="1"/>
<circle cx="182.64" cy="403.91" r="1.4" fill="#fbf1f1" stroke="#b4b4b4" stroke-width="1"/>
<circle cx="182.55" cy="402.93" r="1.4" fill="#fbf1f1" stroke="#b4b4b4" stroke-width="1"/>
<circle cx="183.16" cy="400.17" r="1.4" fill="#fbf1f1" stroke="#b4b4b4" stroke-width="1"/>
<circle cx="182.78" cy="405.22" r="1.4" fill="#fbf1f1" stroke="#b4b4b4" stroke-width="1"/>
<circle cx="183.08" cy="397.61" r="1.4" fill="#fbf1f1" stroke="#b4b4b4" stroke-width="1"/>
<circle cx="182.8" cy="395.71" r="1.5" fill="#b4b4b4"/>
<circle cx="182.8" cy="414.09" r="1.5" fill="#b4b4b4"/>
<line x1="189.7" y1="382.49" x2="189.7" y2="392" stroke="#6a6a6a" stroke-width="1"/>
<rect x="187.7" y="385.3" width="4" height="5.43" fill="#fbf1f1" stroke="#6a6a6a" stroke-width="1.2"/>
<line x1="187.7" y1="388.92" x2="191.7" y2="388.92" stroke="#6a6a6a" stroke-width="1"/>
<circle cx="189.99" cy="392" r="1.4" fill="#fbf1f1" stroke="#6a6a6a" stroke-width="1"/>
<circle cx="190.12" cy="382.49" r="1.4" fill="#fbf1f1" stroke="#6a6a6a" stroke-width="1"/>
<circle cx="190.01" cy="388.82" r="1.4" fill="#fbf1f1" stroke="#6a6a6a" stroke-width="1"/>
<circle cx="190.02" cy="389.66" r="1.4" fill="#fbf1f1" stroke="#6a6a6a" stroke-width="1"/>
<circle cx="189.21" cy="387.82" r="1.4" fill="#fbf1f1" stroke="#6a6a6a" stroke-width="1"/>
<circle cx="189.83" cy="386.29" r="1.4" fill="#fbf1f1" stroke="#6a6a6a" stroke-width="1"/>
<circle cx="190.06" cy="389.8" r="1.4" fill="#fbf1f1" stroke="#6a6a6a" stroke-width="1"/>
<circle cx="189.25" cy="390.73" r="1.4" fill="#fbf1f1" stroke="#6a6a6a" stroke-width="1"/>
<circle cx="189.47" cy="385.3" r="1.4" fill="#fbf1f1" stroke="#6a6a6a" stroke-width="1"/>
<circle cx="189.7" cy="382.49" r="1.5" fill="#6a6a6a"/>
<circle cx="189.7" cy="392" r="1.5" fill="#6a6a6a"/>
<line x1="196.6" y1="383.76" x2="196.6" y2="407.03" stroke="#f26b2c" stroke-width="1"/>
<rect x="194.6" y="387.11" width="4" height="18.11" fill="#fbf1f1" stroke="#f26b2c" stroke-width="1.2"/>
<line x1="194.6" y1="396.16" x2="198.6" y2="396.16" stroke="#f26b2c" stroke-width="1"/>
<circle cx="196.1" cy="407.03" r="1.4" fill="#fbf1f1" stroke="#f26b2c" stroke-width="1"/>
<circle cx="196.15" cy="383.76" r="1.4" fill="#fbf1f1" stroke="#f26b2c" stroke-width="1"/>
<circle cx="196.23" cy="400.35" r="1.4" fill="#fbf1f1" stroke="#f26b2c" stroke-width="1"/>
<circle cx="196.22" cy="395.67" r="1.4" fill="#fbf1f1" stroke="#f26b2c" stroke-width="1"/>
<circle cx="196.17" cy="397.56" r="1.4" fill="#fbf1f1" stroke="#f26b2c" stroke-width="1"/>
<circle cx="197.07" cy="396.65" r="1.4" fill="#fbf1f1" stroke="#f26b2c" stroke-width="1"/>
<circle cx="196.95" cy="391.15" r="1.4" fill="#fbf1f1" stroke="#f26b2c" stroke-width="1"/>
<circle cx="196.19" cy="405.22" r="1.4" fill="#fbf1f1" stroke="#f26b2c" stroke-width="1"/>
<circle cx="196.6" cy="387.11" r="1.4" fill="#fbf1f1" stroke="#f26b2c" stroke-width="1"/>
<circle cx="196.6" cy="383.76" r="1.5" fill="#f26b2c"/>
<circle cx="196.6" cy="407.03" r="1.5" fill="#f26b2c"/>
<line x1="203.6" y1="401.41" x2="203.6" y2="428.94" stroke="#419b9d" stroke-width="1"/>
<rect x="201.6" y="405.22" width="4" height="16.3" fill="#fbf1f1" stroke="#419b9d" stroke-width="1.2"/>
<line x1="201.6" y1="414.27" x2="205.6" y2="414.27" stroke="#419b9d" stroke-width="1"/>
<circle cx="203.46" cy="428.94" r="1.4" fill="#fbf1f1" stroke="#419b9d" stroke-width="1"/>
<circle cx="203.29" cy="401.41" r="1.4" fill="#fbf1f1" stroke="#419b9d" stroke-width="1"/>
<circle cx="203.43" cy="416.37" r="1.4" fill="#fbf1f1" stroke="#419b9d" stroke-width="1"/>
<circle cx="203.22" cy="416.39" r="1.4" fill="#fbf1f1" stroke="#419b9d" stroke-width="1"/>
<circle cx="203.66" cy="415.79" r="1.4" fill="#fbf1f1" stroke="#419b9d" stroke-width="1"/>
<circle cx="203.82" cy="410.97" r="1.4" fill="#fbf1f1" stroke="#419b9d" stroke-width="1"/>
<circle cx="203.48" cy="411.95" r="1.4" fill="#fbf1f1" stroke="#419b9d" stroke-width="1"/>
<circle cx="203.18" cy="421.52" r="1.4" fill="#fbf1f1" stroke="#419b9d" stroke-width="1"/>
<circle cx="203.28" cy="405.22" r="1.4" fill="#fbf1f1" stroke="#419b9d" stroke-width="1"/>
<circle cx="203.6" cy="401.41" r="1.5" fill="#419b9d"/>
<circle cx="203.6" cy="428.94" r="1.5" fill="#419b9d"/>
<line x1="210.6" y1="407.66" x2="210.6" y2="463.17" stroke="#2626e6" stroke-width="1"/>
<rect x="208.6" y="430.39" width="4" height="12.77" fill="#fbf1f1" stroke="#2626e6" stroke-width="1.2"/>
<line x1="208.6" y1="436.91" x2="212.6" y2="436.91" stroke="#2626e6" stroke-width="1"/>
<circle cx="210.72" cy="463.17" r="1.4" fill="#fbf1f1" stroke="#2626e6" stroke-width="1"/>
<circle cx="210.53" cy="407.66" r="1.4" fill="#fbf1f1" stroke="#2626e6" stroke-width="1"/>
<circle cx="210.47" cy="438.39" r="1.4" fill="#fbf1f1" stroke="#2626e6" stroke-width="1"/>
<circle cx="210.6" cy="435.44" r="1.4" fill="#fbf1f1" stroke="#2626e6" stroke-width="1"/>
<circle cx="210.8" cy="433.16" r="1.4" fill="#fbf1f1" stroke="#2626e6" stroke-width="1"/>
<circle cx="210.52" cy="438.3" r="1.4" fill="#fbf1f1" stroke="#2626e6" stroke-width="1"/>
<circle cx="210.79" cy="432.93" r="1.4" fill="#fbf1f1" stroke="#2626e6" stroke-width="1"/>
<circle cx="210.56" cy="443.16" r="1.4" fill="#fbf1f1" stroke="#2626e6" stroke-width="1"/>
<circle cx="210.35" cy="430.39" r="1.4" fill="#fbf1f1" stroke="#2626e6" stroke-width="1"/>
<circle cx="210.6" cy="407.66" r="1.5" fill="#2626e6"/>
<circle cx="210.6" cy="463.17" r="1.5" fill="#2626e6"/>
<line x1="222" y1="390.91" x2="222" y2="417.53" stroke="#b4b4b4" stroke-width="1"/>
<rect x="220" y="390.91" width="4" height="7.06" fill="#fbf1f1" stroke="#b4b4b4" stroke-width="1.2"/>
<line x1="220" y1="394.35" x2="224" y2="394.35" stroke="#b4b4b4" stroke-width="1"/>
<circle cx="222.38" cy="417.53" r="1.4" fill="#fbf1f1" stroke="#b4b4b4" stroke-width="1"/>
<circle cx="222.44" cy="390.91" r="1.4" fill="#fbf1f1" stroke="#b4b4b4" stroke-width="1"/>
<circle cx="221.87" cy="394.19" r="1.4" fill="#fbf1f1" stroke="#b4b4b4" stroke-width="1"/>
<circle cx="222.4" cy="393.06" r="1.4" fill="#fbf1f1" stroke="#b4b4b4" stroke-width="1"/>
<circle cx="222.29" cy="397.47" r="1.4" fill="#fbf1f1" stroke="#b4b4b4" stroke-width="1"/>
<circle cx="221.76" cy="394.97" r="1.4" fill="#fbf1f1" stroke="#b4b4b4" stroke-width="1"/>
<circle cx="221.96" cy="394.96" r="1.4" fill="#fbf1f1" stroke="#b4b4b4" stroke-width="1"/>
<circle cx="221.62" cy="397.97" r="1.4" fill="#fbf1f1" stroke="#b4b4b4" stroke-width="1"/>
<circle cx="222.31" cy="390.91" r="1.4" fill="#fbf1f1" stroke="#b4b4b4" stroke-width="1"/>
<circle cx="222" cy="390.91" r="1.5" fill="#b4b4b4"/>
<circle cx="222" cy="417.53" r="1.5" fill="#b4b4b4"/>
<line x1="228.9" y1="386.2" x2="228.9" y2="410.92" stroke="#6a6a6a" stroke-width="1"/>
<rect x="226.9" y="391.63" width="4" height="13.58" fill="#fbf1f1" stroke="#6a6a6a" stroke-width="1.2"/>
<line x1="226.9" y1="397.07" x2="230.9" y2="397.07" stroke="#6a6a6a" stroke-width="1"/>
<circle cx="228.96" cy="410.92" r="1.4" fill="#fbf1f1" stroke="#6a6a6a" stroke-width="1"/>
<circle cx="228.5" cy="386.2" r="1.4" fill="#fbf1f1" stroke="#6a6a6a" stroke-width="1"/>
<circle cx="228.99" cy="396.22" r="1.4" fill="#fbf1f1" stroke="#6a6a6a" stroke-width="1"/>
<circle cx="228.4" cy="393.16" r="1.4" fill="#fbf1f1" stroke="#6a6a6a" stroke-width="1"/>
<circle cx="228.54" cy="394.45" r="1.4" fill="#fbf1f1" stroke="#6a6a6a" stroke-width="1"/>
<circle cx="229.17" cy="396.15" r="1.4" fill="#fbf1f1" stroke="#6a6a6a" stroke-width="1"/>
<circle cx="228.44" cy="395.25" r="1.4" fill="#fbf1f1" stroke="#6a6a6a" stroke-width="1"/>
<circle cx="228.49" cy="405.22" r="1.4" fill="#fbf1f1" stroke="#6a6a6a" stroke-width="1"/>
<circle cx="228.5" cy="391.63" r="1.4" fill="#fbf1f1" stroke="#6a6a6a" stroke-width="1"/>
<circle cx="228.9" cy="386.2" r="1.5" fill="#6a6a6a"/>
<circle cx="228.9" cy="410.92" r="1.5" fill="#6a6a6a"/>
<line x1="235.8" y1="387.56" x2="235.8" y2="404.22" stroke="#f26b2c" stroke-width="1"/>
<rect x="233.8" y="388.92" width="4" height="12.68" fill="#fbf1f1" stroke="#f26b2c" stroke-width="1.2"/>
<line x1="233.8" y1="395.26" x2="237.8" y2="395.26" stroke="#f26b2c" stroke-width="1"/>
<circle cx="236.14" cy="404.22" r="1.4" fill="#fbf1f1" stroke="#f26b2c" stroke-width="1"/>
<circle cx="235.97" cy="387.56" r="1.4" fill="#fbf1f1" stroke="#f26b2c" stroke-width="1"/>
<circle cx="236.14" cy="390.43" r="1.4" fill="#fbf1f1" stroke="#f26b2c" stroke-width="1"/>
<circle cx="236.25" cy="399.32" r="1.4" fill="#fbf1f1" stroke="#f26b2c" stroke-width="1"/>
<circle cx="235.88" cy="401.3" r="1.4" fill="#fbf1f1" stroke="#f26b2c" stroke-width="1"/>
<circle cx="236.1" cy="390.93" r="1.4" fill="#fbf1f1" stroke="#f26b2c" stroke-width="1"/>
<circle cx="235.34" cy="400.06" r="1.4" fill="#fbf1f1" stroke="#f26b2c" stroke-width="1"/>
<circle cx="236.07" cy="401.59" r="1.4" fill="#fbf1f1" stroke="#f26b2c" stroke-width="1"/>
<circle cx="235.81" cy="388.92" r="1.4" fill="#fbf1f1" stroke="#f26b2c" stroke-width="1"/>
<circle cx="235.8" cy="387.56" r="1.5" fill="#f26b2c"/>
<circle cx="235.8" cy="404.22" r="1.5" fill="#f26b2c"/>
<line x1="242.8" y1="401.41" x2="242.8" y2="441.35" stroke="#419b9d" stroke-width="1"/>
<rect x="240.8" y="405.22" width="4" height="26.26" fill="#fbf1f1" stroke="#419b9d" stroke-width="1.2"/>
<line x1="240.8" y1="421.52" x2="244.8" y2="421.52" stroke="#419b9d" stroke-width="1"/>
<circle cx="242.62" cy="441.35" r="1.4" fill="#fbf1f1" stroke="#419b9d" stroke-width="1"/>
<circle cx="242.86" cy="401.41" r="1.4" fill="#fbf1f1" stroke="#419b9d" stroke-width="1"/>
<circle cx="243.13" cy="412.7" r="1.4" fill="#fbf1f1" stroke="#419b9d" stroke-width="1"/>
<circle cx="242.54" cy="428.67" r="1.4" fill="#fbf1f1" stroke="#419b9d" stroke-width="1"/>
<circle cx="242.48" cy="411.81" r="1.4" fill="#fbf1f1" stroke="#419b9d" stroke-width="1"/>
<circle cx="242.55" cy="406.93" r="1.4" fill="#fbf1f1" stroke="#419b9d" stroke-width="1"/>
<circle cx="242.92" cy="429.87" r="1.4" fill="#fbf1f1" stroke="#419b9d" stroke-width="1"/>
<circle cx="243.05" cy="431.48" r="1.4" fill="#fbf1f1" stroke="#419b9d" stroke-width="1"/>
<circle cx="242.69" cy="405.22" r="1.4" fill="#fbf1f1" stroke="#419b9d" stroke-width="1"/>
<circle cx="242.8" cy="401.41" r="1.5" fill="#419b9d"/>
<circle cx="242.8" cy="441.35" r="1.5" fill="#419b9d"/>
<line x1="249.8" y1="407.66" x2="249.8" y2="448.05" stroke="#2626e6" stroke-width="1"/>
<rect x="247.8" y="426.04" width="4" height="13.31" fill="#fbf1f1" stroke="#2626e6" stroke-width="1.2"/>
<line x1="247.8" y1="432.38" x2="251.8" y2="432.38" stroke="#2626e6" stroke-width="1"/>
<circle cx="249.8" cy="448.05" r="1.4" fill="#fbf1f1" stroke="#2626e6" stroke-width="1"/>
<circle cx="250.27" cy="407.66" r="1.4" fill="#fbf1f1" stroke="#2626e6" stroke-width="1"/>
<circle cx="249.71" cy="434.46" r="1.4" fill="#fbf1f1" stroke="#2626e6" stroke-width="1"/>
<circle cx="250.05" cy="434.07" r="1.4" fill="#fbf1f1" stroke="#2626e6" stroke-width="1"/>
<circle cx="249.46" cy="434.69" r="1.4" fill="#fbf1f1" stroke="#2626e6" stroke-width="1"/>
<circle cx="249.99" cy="433.79" r="1.4" fill="#fbf1f1" stroke="#2626e6" stroke-width="1"/>
<circle cx="250.06" cy="438.25" r="1.4" fill="#fbf1f1" stroke="#2626e6" stroke-width="1"/>
<circle cx="249.97" cy="439.35" r="1.4" fill="#fbf1f1" stroke="#2626e6" stroke-width="1"/>
<circle cx="249.82" cy="426.04" r="1.4" fill="#fbf1f1" stroke="#2626e6" stroke-width="1"/>
<circle cx="249.8" cy="407.66" r="1.5" fill="#2626e6"/>
<circle cx="249.8" cy="448.05" r="1.5" fill="#2626e6"/>
<line x1="261.2" y1="381.04" x2="261.2" y2="421.06" stroke="#b4b4b4" stroke-width="1"/>
<rect x="259.2" y="387.11" width="4" height="25.35" fill="#fbf1f1" stroke="#b4b4b4" stroke-width="1.2"/>
<line x1="259.2" y1="401.59" x2="263.2" y2="401.59" stroke="#b4b4b4" stroke-width="1"/>
<circle cx="261.45" cy="421.06" r="1.4" fill="#fbf1f1" stroke="#b4b4b4" stroke-width="1"/>
<circle cx="261.62" cy="381.04" r="1.4" fill="#fbf1f1" stroke="#b4b4b4" stroke-width="1"/>
<circle cx="261.22" cy="400.2" r="1.4" fill="#fbf1f1" stroke="#b4b4b4" stroke-width="1"/>
<circle cx="261.14" cy="396.16" r="1.4" fill="#fbf1f1" stroke="#b4b4b4" stroke-width="1"/>
<circle cx="261.42" cy="389.71" r="1.4" fill="#fbf1f1" stroke="#b4b4b4" stroke-width="1"/>
<circle cx="260.89" cy="408.67" r="1.4" fill="#fbf1f1" stroke="#b4b4b4" stroke-width="1"/>
<circle cx="260.97" cy="410.03" r="1.4" fill="#fbf1f1" stroke="#b4b4b4" stroke-width="1"/>
<circle cx="260.9" cy="412.46" r="1.4" fill="#fbf1f1" stroke="#b4b4b4" stroke-width="1"/>
<circle cx="261.29" cy="387.11" r="1.4" fill="#fbf1f1" stroke="#b4b4b4" stroke-width="1"/>
<circle cx="261.2" cy="381.04" r="1.5" fill="#b4b4b4"/>
<circle cx="261.2" cy="421.06" r="1.5" fill="#b4b4b4"/>
<line x1="268.1" y1="378.32" x2="268.1" y2="417.53" stroke="#6a6a6a" stroke-width="1"/>
<rect x="266.1" y="383.48" width="4" height="19.92" fill="#fbf1f1" stroke="#6a6a6a" stroke-width="1.2"/>
<line x1="266.1" y1="392.54" x2="270.1" y2="392.54" stroke="#6a6a6a" stroke-width="1"/>
<circle cx="268.31" cy="417.53" r="1.4" fill="#fbf1f1" stroke="#6a6a6a" stroke-width="1"/>
<circle cx="268.01" cy="378.32" r="1.4" fill="#fbf1f1" stroke="#6a6a6a" stroke-width="1"/>
<circle cx="268.45" cy="397.13" r="1.4" fill="#fbf1f1" stroke="#6a6a6a" stroke-width="1"/>
<circle cx="268.18" cy="398.78" r="1.4" fill="#fbf1f1" stroke="#6a6a6a" stroke-width="1"/>
<circle cx="267.87" cy="389.64" r="1.4" fill="#fbf1f1" stroke="#6a6a6a" stroke-width="1"/>
<circle cx="267.82" cy="384.41" r="1.4" fill="#fbf1f1" stroke="#6a6a6a" stroke-width="1"/>
<circle cx="267.62" cy="397.51" r="1.4" fill="#fbf1f1" stroke="#6a6a6a" stroke-width="1"/>
<circle cx="268.08" cy="403.41" r="1.4" fill="#fbf1f1" stroke="#6a6a6a" stroke-width="1"/>
<circle cx="267.98" cy="383.48" r="1.4" fill="#fbf1f1" stroke="#6a6a6a" stroke-width="1"/>
<circle cx="268.1" cy="378.32" r="1.5" fill="#6a6a6a"/>
<circle cx="268.1" cy="417.53" r="1.5" fill="#6a6a6a"/>
<line x1="275" y1="391.36" x2="275" y2="434.64" stroke="#f26b2c" stroke-width="1"/>
<rect x="273" y="391.36" width="4" height="7.52" fill="#fbf1f1" stroke="#f26b2c" stroke-width="1.2"/>
<line x1="273" y1="392.54" x2="277" y2="392.54" stroke="#f26b2c" stroke-width="1"/>
<circle cx="275.49" cy="434.64" r="1.4" fill="#fbf1f1" stroke="#f26b2c" stroke-width="1"/>
<circle cx="274.98" cy="391.36" r="1.4" fill="#fbf1f1" stroke="#f26b2c" stroke-width="1"/>
<circle cx="275.1" cy="397.58" r="1.4" fill="#fbf1f1" stroke="#f26b2c" stroke-width="1"/>
<circle cx="274.97" cy="396.17" r="1.4" fill="#fbf1f1" stroke="#f26b2c" stroke-width="1"/>
<circle cx="275.33" cy="396.46" r="1.4" fill="#fbf1f1" stroke="#f26b2c" stroke-width="1"/>
<circle cx="275.32" cy="393.06" r="1.4" fill="#fbf1f1" stroke="#f26b2c" stroke-width="1"/>
<circle cx="275.06" cy="397.8" r="1.4" fill="#fbf1f1" stroke="#f26b2c" stroke-width="1"/>
<circle cx="274.98" cy="398.88" r="1.4" fill="#fbf1f1" stroke="#f26b2c" stroke-width="1"/>
<circle cx="275.22" cy="391.36" r="1.4" fill="#fbf1f1" stroke="#f26b2c" stroke-width="1"/>
<circle cx="275" cy="391.36" r="1.5" fill="#f26b2c"/>
<circle cx="275" cy="434.64" r="1.5" fill="#f26b2c"/>
<line x1="282" y1="401.96" x2="282" y2="436.82" stroke="#419b9d" stroke-width="1"/>
<rect x="280" y="408.84" width="4" height="17.2" fill="#fbf1f1" stroke="#419b9d" stroke-width="1.2"/>
<line x1="280" y1="416.99" x2="284" y2="416.99" stroke="#419b9d" stroke-width="1"/>
<circle cx="281.73" cy="436.82" r="1.4" fill="#fbf1f1" stroke="#419b9d" stroke-width="1"/>
<circle cx="281.73" cy="401.96" r="1.4" fill="#fbf1f1" stroke="#419b9d" stroke-width="1"/>
<circle cx="282.22" cy="411.3" r="1.4" fill="#fbf1f1" stroke="#419b9d" stroke-width="1"/>
<circle cx="282.18" cy="419.16" r="1.4" fill="#fbf1f1" stroke="#419b9d" stroke-width="1"/>
<circle cx="282.46" cy="413.42" r="1.4" fill="#fbf1f1" stroke="#419b9d" stroke-width="1"/>
<circle cx="282.35" cy="409.52" r="1.4" fill="#fbf1f1" stroke="#419b9d" stroke-width="1"/>
<circle cx="281.74" cy="418" r="1.4" fill="#fbf1f1" stroke="#419b9d" stroke-width="1"/>
<circle cx="281.69" cy="426.04" r="1.4" fill="#fbf1f1" stroke="#419b9d" stroke-width="1"/>
<circle cx="281.76" cy="408.84" r="1.4" fill="#fbf1f1" stroke="#419b9d" stroke-width="1"/>
<circle cx="282" cy="401.96" r="1.5" fill="#419b9d"/>
<circle cx="282" cy="436.82" r="1.5" fill="#419b9d"/>
<line x1="289" y1="407.03" x2="289" y2="463.53" stroke="#2626e6" stroke-width="1"/>
<rect x="287" y="419.7" width="4" height="19.92" fill="#fbf1f1" stroke="#2626e6" stroke-width="1.2"/>
<line x1="287" y1="430.57" x2="291" y2="430.57" stroke="#2626e6" stroke-width="1"/>
<circle cx="289.37" cy="463.53" r="1.4" fill="#fbf1f1" stroke="#2626e6" stroke-width="1"/>
<circle cx="288.81" cy="407.03" r="1.4" fill="#fbf1f1" stroke="#2626e6" stroke-width="1"/>
<circle cx="288.92" cy="435.9" r="1.4" fill="#fbf1f1" stroke="#2626e6" stroke-width="1"/>
<circle cx="289.23" cy="425.59" r="1.4" fill="#fbf1f1" stroke="#2626e6" stroke-width="1"/>
<circle cx="288.59" cy="422.52" r="1.4" fill="#fbf1f1" stroke="#2626e6" stroke-width="1"/>
<circle cx="288.59" cy="421.7" r="1.4" fill="#fbf1f1" stroke="#2626e6" stroke-width="1"/>
<circle cx="289.33" cy="434.54" r="1.4" fill="#fbf1f1" stroke="#2626e6" stroke-width="1"/>
<circle cx="288.79" cy="439.62" r="1.4" fill="#fbf1f1" stroke="#2626e6" stroke-width="1"/>
<circle cx="288.86" cy="419.7" r="1.4" fill="#fbf1f1" stroke="#2626e6" stroke-width="1"/>
<circle cx="289" cy="407.03" r="1.5" fill="#2626e6"/>
<circle cx="289" cy="463.53" r="1.5" fill="#2626e6"/>
<line x1="300.4" y1="387.83" x2="300.4" y2="436.82" stroke="#b4b4b4" stroke-width="1"/>
<rect x="298.4" y="389.82" width="4" height="11.77" fill="#fbf1f1" stroke="#b4b4b4" stroke-width="1.2"/>
<line x1="298.4" y1="394.35" x2="302.4" y2="394.35" stroke="#b4b4b4" stroke-width="1"/>
<circle cx="300.39" cy="436.82" r="1.4" fill="#fbf1f1" stroke="#b4b4b4" stroke-width="1"/>
<circle cx="300.11" cy="387.83" r="1.4" fill="#fbf1f1" stroke="#b4b4b4" stroke-width="1"/>
<circle cx="300.49" cy="394.76" r="1.4" fill="#fbf1f1" stroke="#b4b4b4" stroke-width="1"/>
<circle cx="300.86" cy="393.64" r="1.4" fill="#fbf1f1" stroke="#b4b4b4" stroke-width="1"/>
<circle cx="300.29" cy="401.51" r="1.4" fill="#fbf1f1" stroke="#b4b4b4" stroke-width="1"/>
<circle cx="300.44" cy="397.65" r="1.4" fill="#fbf1f1" stroke="#b4b4b4" stroke-width="1"/>
<circle cx="300.02" cy="396.46" r="1.4" fill="#fbf1f1" stroke="#b4b4b4" stroke-width="1"/>
<circle cx="300.17" cy="401.59" r="1.4" fill="#fbf1f1" stroke="#b4b4b4" stroke-width="1"/>
<circle cx="300.57" cy="389.82" r="1.4" fill="#fbf1f1" stroke="#b4b4b4" stroke-width="1"/>
<circle cx="300.4" cy="387.83" r="1.5" fill="#b4b4b4"/>
<circle cx="300.4" cy="436.82" r="1.5" fill="#b4b4b4"/>
<line x1="307.3" y1="388.37" x2="307.3" y2="423.96" stroke="#6a6a6a" stroke-width="1"/>
<rect x="305.3" y="389.82" width="4" height="7.24" fill="#fbf1f1" stroke="#6a6a6a" stroke-width="1.2"/>
<line x1="305.3" y1="392.54" x2="309.3" y2="392.54" stroke="#6a6a6a" stroke-width="1"/>
<circle cx="307.17" cy="423.96" r="1.4" fill="#fbf1f1" stroke="#6a6a6a" stroke-width="1"/>
<circle cx="307.57" cy="388.37" r="1.4" fill="#fbf1f1" stroke="#6a6a6a" stroke-width="1"/>
<circle cx="307.56" cy="396.25" r="1.4" fill="#fbf1f1" stroke="#6a6a6a" stroke-width="1"/>
<circle cx="307.1" cy="390.64" r="1.4" fill="#fbf1f1" stroke="#6a6a6a" stroke-width="1"/>
<circle cx="307.48" cy="390.48" r="1.4" fill="#fbf1f1" stroke="#6a6a6a" stroke-width="1"/>
<circle cx="307.45" cy="396.36" r="1.4" fill="#fbf1f1" stroke="#6a6a6a" stroke-width="1"/>
<circle cx="307.61" cy="390.25" r="1.4" fill="#fbf1f1" stroke="#6a6a6a" stroke-width="1"/>
<circle cx="307.07" cy="397.07" r="1.4" fill="#fbf1f1" stroke="#6a6a6a" stroke-width="1"/>
<circle cx="307.55" cy="389.82" r="1.4" fill="#fbf1f1" stroke="#6a6a6a" stroke-width="1"/>
<circle cx="307.3" cy="388.37" r="1.5" fill="#6a6a6a"/>
<circle cx="307.3" cy="423.96" r="1.5" fill="#6a6a6a"/>
<line x1="314.2" y1="386.29" x2="314.2" y2="407.03" stroke="#f26b2c" stroke-width="1"/>
<rect x="312.2" y="388.92" width="4" height="16.3" fill="#fbf1f1" stroke="#f26b2c" stroke-width="1.2"/>
<line x1="312.2" y1="397.07" x2="316.2" y2="397.07" stroke="#f26b2c" stroke-width="1"/>
<circle cx="314.05" cy="407.03" r="1.4" fill="#fbf1f1" stroke="#f26b2c" stroke-width="1"/>
<circle cx="314.42" cy="386.29" r="1.4" fill="#fbf1f1" stroke="#f26b2c" stroke-width="1"/>
<circle cx="314.38" cy="389.55" r="1.4" fill="#fbf1f1" stroke="#f26b2c" stroke-width="1"/>
<circle cx="314.27" cy="394.25" r="1.4" fill="#fbf1f1" stroke="#f26b2c" stroke-width="1"/>
<circle cx="313.88" cy="396.48" r="1.4" fill="#fbf1f1" stroke="#f26b2c" stroke-width="1"/>
<circle cx="314.35" cy="403.37" r="1.4" fill="#fbf1f1" stroke="#f26b2c" stroke-width="1"/>
<circle cx="314.33" cy="397.17" r="1.4" fill="#fbf1f1" stroke="#f26b2c" stroke-width="1"/>
<circle cx="313.88" cy="405.22" r="1.4" fill="#fbf1f1" stroke="#f26b2c" stroke-width="1"/>
<circle cx="314.59" cy="388.92" r="1.4" fill="#fbf1f1" stroke="#f26b2c" stroke-width="1"/>
<circle cx="314.2" cy="386.29" r="1.5" fill="#f26b2c"/>
<circle cx="314.2" cy="407.03" r="1.5" fill="#f26b2c"/>
<line x1="321.2" y1="413" x2="321.2" y2="452.48" stroke="#419b9d" stroke-width="1"/>
<rect x="319.2" y="419.7" width="4" height="18.11" fill="#fbf1f1" stroke="#419b9d" stroke-width="1.2"/>
<line x1="319.2" y1="430.57" x2="323.2" y2="430.57" stroke="#419b9d" stroke-width="1"/>
<circle cx="321.42" cy="452.48" r="1.4" fill="#fbf1f1" stroke="#419b9d" stroke-width="1"/>
<circle cx="321.3" cy="413" r="1.4" fill="#fbf1f1" stroke="#419b9d" stroke-width="1"/>
<circle cx="321.25" cy="425.95" r="1.4" fill="#fbf1f1" stroke="#419b9d" stroke-width="1"/>
<circle cx="321.35" cy="435.58" r="1.4" fill="#fbf1f1" stroke="#419b9d" stroke-width="1"/>
<circle cx="321.16" cy="420.94" r="1.4" fill="#fbf1f1" stroke="#419b9d" stroke-width="1"/>
<circle cx="321.01" cy="435.25" r="1.4" fill="#fbf1f1" stroke="#419b9d" stroke-width="1"/>
<circle cx="320.88" cy="431.81" r="1.4" fill="#fbf1f1" stroke="#419b9d" stroke-width="1"/>
<circle cx="320.77" cy="437.81" r="1.4" fill="#fbf1f1" stroke="#419b9d" stroke-width="1"/>
<circle cx="321.42" cy="419.7" r="1.4" fill="#fbf1f1" stroke="#419b9d" stroke-width="1"/>
<circle cx="321.2" cy="413" r="1.5" fill="#419b9d"/>
<circle cx="321.2" cy="452.48" r="1.5" fill="#419b9d"/>
<line x1="328.2" y1="413.91" x2="328.2" y2="452.48" stroke="#2626e6" stroke-width="1"/>
<rect x="326.2" y="416.99" width="4" height="13.58" fill="#fbf1f1" stroke="#2626e6" stroke-width="1.2"/>
<line x1="326.2" y1="424.23" x2="330.2" y2="424.23" stroke="#2626e6" stroke-width="1"/>
<circle cx="328.08" cy="452.48" r="1.4" fill="#fbf1f1" stroke="#2626e6" stroke-width="1"/>
<circle cx="328.57" cy="413.91" r="1.4" fill="#fbf1f1" stroke="#2626e6" stroke-width="1"/>
<circle cx="327.74" cy="420.32" r="1.4" fill="#fbf1f1" stroke="#2626e6" stroke-width="1"/>
<circle cx="328.2" cy="423.19" r="1.4" fill="#fbf1f1" stroke="#2626e6" stroke-width="1"/>
<circle cx="327.95" cy="420.52" r="1.4" fill="#fbf1f1" stroke="#2626e6" stroke-width="1"/>
<circle cx="328.47" cy="425.69" r="1.4" fill="#fbf1f1" stroke="#2626e6" stroke-width="1"/>
<circle cx="328.05" cy="426.96" r="1.4" fill="#fbf1f1" stroke="#2626e6" stroke-width="1"/>
<circle cx="328.03" cy="430.57" r="1.4" fill="#fbf1f1" stroke="#2626e6" stroke-width="1"/>
<circle cx="328.1" cy="416.99" r="1.4" fill="#fbf1f1" stroke="#2626e6" stroke-width="1"/>
<circle cx="328.2" cy="413.91" r="1.5" fill="#2626e6"/>
<circle cx="328.2" cy="452.48" r="1.5" fill="#2626e6"/>
<rect x="65.6" y="304.3" width="9.8" height="4" fill="none" stroke="#b4b4b4" stroke-width="1.1"/>
<text x="82.2" y="308.8" font-size="8.3" fill="#1a1a1a">WT</text>
<rect x="65.6" y="313.5" width="9.8" height="4" fill="none" stroke="#6a6a6a" stroke-width="1.1"/>
<text x="82.2" y="317.5" font-size="8.3" fill="#1a1a1a">WT-EGFP</text>
<rect x="65.6" y="322.3" width="9.8" height="4" fill="none" stroke="#f26b2c" stroke-width="1.1"/>
<text x="82.2" y="326.3" font-size="8.3" fill="#1a1a1a">G with PBS</text>
<rect x="65.6" y="331.8" width="9.8" height="4" fill="none" stroke="#419b9d" stroke-width="1.1"/>
<text x="82.2" y="337.3" font-size="8.3" fill="#1a1a1a">G with 22.8% ITGA6<tspan dy="-3" font-size="5.5">+</tspan><tspan dy="3">iPSC-TM</tspan></text>
<rect x="65.6" y="341.4" width="9.8" height="4" fill="none" stroke="#2626e6" stroke-width="1.1"/>
<text x="82.2" y="346.6" font-size="8.3" fill="#1a1a1a">G with 40.6% ITGA6<tspan dy="-3" font-size="5.5">+</tspan><tspan dy="3">iPSC-TM</tspan></text>
<text x="125.8" y="312.8" font-size="10" font-weight="bold" fill="#000"><tspan font-style="italic">P</tspan> = 0.0000000000000006</text>
<text x="247.8" y="317" font-size="10.4" font-weight="bold" fill="#000"><tspan font-style="italic">P</tspan> = 0.0000000001</text>
<text x="229.8" y="341" font-size="10.3" font-weight="bold" fill="#000"><tspan font-style="italic">P</tspan> = 0.001</text>
<text x="207.6" y="326" font-size="8.5" fill="#333" letter-spacing="1.25">****</text>
<text x="256.2" y="325.8" font-size="8.5" fill="#333" letter-spacing="1.25">****</text>
<text x="211.6" y="341.5" font-size="9" fill="#222" letter-spacing="1.4">**</text>
<text x="207.6" y="330.4" font-size="6.6" fill="#333">(40.6 vs. G)</text>
<text x="256.4" y="329" font-size="6.5" fill="#333">(22.8 vs. G)</text>
<text x="211.5" y="345.8" font-size="6.5" fill="#333">(40.6 vs. 22.8)</text>
<line x1="204" y1="321" x2="204" y2="348.7" stroke="#111" stroke-width="1.3"/>
<line x1="208.4" y1="334.2" x2="208.4" y2="348.7" stroke="#111" stroke-width="1.3"/>
<line x1="253.4" y1="319.5" x2="253.4" y2="332.6" stroke="#111" stroke-width="1.3"/>
<line x1="391" y1="303.6" x2="391" y2="466.2" stroke="#3a3a3a" stroke-width="1.4"/>
<line x1="390.4" y1="465.5" x2="540.4" y2="465.5" stroke="#3a3a3a" stroke-width="1.4"/>
<line x1="391.5" y1="384.9" x2="540.4" y2="384.9" stroke="#333" stroke-width="0.9" stroke-dasharray="1.2 1.8"/>
<line x1="388" y1="304.3" x2="391" y2="304.3" stroke="#3a3a3a" stroke-width="1.1"/>
<text x="387.2" y="308.6" font-size="12" text-anchor="end" fill="#111">10</text>
<line x1="388" y1="344.6" x2="391" y2="344.6" stroke="#3a3a3a" stroke-width="1.1"/>
<text x="387.2" y="348.9" font-size="12" text-anchor="end" fill="#111">5</text>
<line x1="388" y1="384.9" x2="391" y2="384.9" stroke="#3a3a3a" stroke-width="1.1"/>
<text x="387.2" y="389.2" font-size="12" text-anchor="end" fill="#111">0</text>
<line x1="388" y1="425.2" x2="391" y2="425.2" stroke="#3a3a3a" stroke-width="1.1"/>
<text x="387.2" y="429.5" font-size="12" text-anchor="end" fill="#111">-5</text>
<line x1="388" y1="465.5" x2="391" y2="465.5" stroke="#3a3a3a" stroke-width="1.1"/>
<text x="387.2" y="469.8" font-size="12" text-anchor="end" fill="#111">-10</text>
<line x1="402.3" y1="465.5" x2="402.3" y2="469" stroke="#3a3a3a" stroke-width="1.1"/>
<text x="405.9" y="476.6" font-size="10" text-anchor="end" fill="#111" transform="rotate(-45 405.9 476.6)">dIOP at 1week</text>
<line x1="420.23" y1="465.5" x2="420.23" y2="469" stroke="#3a3a3a" stroke-width="1.1"/>
<text x="423.83" y="476.6" font-size="10" text-anchor="end" fill="#111" transform="rotate(-45 423.83 476.6)">dIOP at 2week</text>
<line x1="438.16" y1="465.5" x2="438.16" y2="469" stroke="#3a3a3a" stroke-width="1.1"/>
<text x="441.76" y="476.6" font-size="10" text-anchor="end" fill="#111" transform="rotate(-45 441.76 476.6)">dIOP at 3week</text>
<line x1="456.09" y1="465.5" x2="456.09" y2="469" stroke="#3a3a3a" stroke-width="1.1"/>
<text x="459.69" y="476.6" font-size="10" text-anchor="end" fill="#111" transform="rotate(-45 459.69 476.6)">dIOP at 4 week</text>
<line x1="474.02" y1="465.5" x2="474.02" y2="469" stroke="#3a3a3a" stroke-width="1.1"/>
<text x="477.62" y="476.6" font-size="10" text-anchor="end" fill="#111" transform="rotate(-45 477.62 476.6)">dIOP at 5 week</text>
<line x1="491.95" y1="465.5" x2="491.95" y2="469" stroke="#3a3a3a" stroke-width="1.1"/>
<text x="495.55" y="476.6" font-size="10" text-anchor="end" fill="#111" transform="rotate(-45 495.55 476.6)">dIOP at 6 week</text>
<line x1="509.88" y1="465.5" x2="509.88" y2="469" stroke="#3a3a3a" stroke-width="1.1"/>
<text x="513.48" y="476.6" font-size="10" text-anchor="end" fill="#111" transform="rotate(-45 513.48 476.6)">dIOP at 7 week</text>
<line x1="527.81" y1="465.5" x2="527.81" y2="469" stroke="#3a3a3a" stroke-width="1.1"/>
<text x="531.41" y="476.6" font-size="10" text-anchor="end" fill="#111" transform="rotate(-45 531.41 476.6)">dIOP at 8 week</text>
<text x="364.1" y="383" font-size="11.2" text-anchor="middle" fill="#111" transform="rotate(-90 364.1 383)">dIOP (mmHg)</text>
<line x1="402.3" y1="381.51" x2="402.3" y2="437.93" stroke="#111" stroke-width="1.2"/>
<line x1="399.8" y1="381.51" x2="404.8" y2="381.51" stroke="#111" stroke-width="1.2"/>
<line x1="399.8" y1="437.93" x2="404.8" y2="437.93" stroke="#111" stroke-width="1.2"/>
<line x1="420.23" y1="382.64" x2="420.23" y2="418.91" stroke="#111" stroke-width="1.2"/>
<line x1="417.73" y1="382.64" x2="422.73" y2="382.64" stroke="#111" stroke-width="1.2"/>
<line x1="417.73" y1="418.91" x2="422.73" y2="418.91" stroke="#111" stroke-width="1.2"/>
<line x1="438.16" y1="364.51" x2="438.16" y2="427.38" stroke="#111" stroke-width="1.2"/>
<line x1="435.66" y1="364.51" x2="440.66" y2="364.51" stroke="#111" stroke-width="1.2"/>
<line x1="435.66" y1="427.38" x2="440.66" y2="427.38" stroke="#111" stroke-width="1.2"/>
<line x1="456.09" y1="370.71" x2="456.09" y2="391.67" stroke="#111" stroke-width="1.2"/>
<line x1="453.59" y1="370.71" x2="458.59" y2="370.71" stroke="#111" stroke-width="1.2"/>
<line x1="453.59" y1="391.67" x2="458.59" y2="391.67" stroke="#111" stroke-width="1.2"/>
<line x1="474.02" y1="349.03" x2="474.02" y2="399.81" stroke="#111" stroke-width="1.2"/>
<line x1="471.52" y1="349.03" x2="476.52" y2="349.03" stroke="#111" stroke-width="1.2"/>
<line x1="471.52" y1="399.81" x2="476.52" y2="399.81" stroke="#111" stroke-width="1.2"/>
<line x1="491.95" y1="379.26" x2="491.95" y2="409.08" stroke="#111" stroke-width="1.2"/>
<line x1="489.45" y1="379.26" x2="494.45" y2="379.26" stroke="#111" stroke-width="1.2"/>
<line x1="489.45" y1="409.08" x2="494.45" y2="409.08" stroke="#111" stroke-width="1.2"/>
<line x1="509.88" y1="359.91" x2="509.88" y2="408.27" stroke="#111" stroke-width="1.2"/>
<line x1="507.38" y1="359.91" x2="512.38" y2="359.91" stroke="#111" stroke-width="1.2"/>
<line x1="507.38" y1="408.27" x2="512.38" y2="408.27" stroke="#111" stroke-width="1.2"/>
<line x1="527.81" y1="379.02" x2="527.81" y2="400.46" stroke="#111" stroke-width="1.2"/>
<line x1="525.31" y1="379.02" x2="530.31" y2="379.02" stroke="#111" stroke-width="1.2"/>
<line x1="525.31" y1="400.46" x2="530.31" y2="400.46" stroke="#111" stroke-width="1.2"/>
<line x1="402.3" y1="354.27" x2="402.3" y2="410.69" stroke="#111" stroke-width="1.2"/>
<line x1="399.8" y1="354.27" x2="404.8" y2="354.27" stroke="#111" stroke-width="1.2"/>
<line x1="399.8" y1="410.69" x2="404.8" y2="410.69" stroke="#111" stroke-width="1.2"/>
<line x1="420.23" y1="391.91" x2="420.23" y2="438.66" stroke="#111" stroke-width="1.2"/>
<line x1="417.73" y1="391.91" x2="422.73" y2="391.91" stroke="#111" stroke-width="1.2"/>
<line x1="417.73" y1="438.66" x2="422.73" y2="438.66" stroke="#111" stroke-width="1.2"/>
<line x1="438.16" y1="373.21" x2="438.16" y2="438.5" stroke="#111" stroke-width="1.2"/>
<line x1="435.66" y1="373.21" x2="440.66" y2="373.21" stroke="#111" stroke-width="1.2"/>
<line x1="435.66" y1="438.5" x2="440.66" y2="438.5" stroke="#111" stroke-width="1.2"/>
<line x1="456.09" y1="373.21" x2="456.09" y2="424.8" stroke="#111" stroke-width="1.2"/>
<line x1="453.59" y1="373.21" x2="458.59" y2="373.21" stroke="#111" stroke-width="1.2"/>
<line x1="453.59" y1="424.8" x2="458.59" y2="424.8" stroke="#111" stroke-width="1.2"/>
<line x1="474.02" y1="392.15" x2="474.02" y2="411.5" stroke="#111" stroke-width="1.2"/>
<line x1="471.52" y1="392.15" x2="476.52" y2="392.15" stroke="#111" stroke-width="1.2"/>
<line x1="471.52" y1="411.5" x2="476.52" y2="411.5" stroke="#111" stroke-width="1.2"/>
<line x1="491.95" y1="373.37" x2="491.95" y2="426.57" stroke="#111" stroke-width="1.2"/>
<line x1="489.45" y1="373.37" x2="494.45" y2="373.37" stroke="#111" stroke-width="1.2"/>
<line x1="489.45" y1="426.57" x2="494.45" y2="426.57" stroke="#111" stroke-width="1.2"/>
<line x1="509.88" y1="394.01" x2="509.88" y2="431.08" stroke="#111" stroke-width="1.2"/>
<line x1="507.38" y1="394.01" x2="512.38" y2="394.01" stroke="#111" stroke-width="1.2"/>
<line x1="507.38" y1="431.08" x2="512.38" y2="431.08" stroke="#111" stroke-width="1.2"/>
<line x1="527.81" y1="387.72" x2="527.81" y2="432.7" stroke="#111" stroke-width="1.2"/>
<line x1="525.31" y1="387.72" x2="530.31" y2="387.72" stroke="#111" stroke-width="1.2"/>
<line x1="525.31" y1="432.7" x2="530.31" y2="432.7" stroke="#111" stroke-width="1.2"/>
<path d="M402.3 409.72 L420.23 400.78 L438.16 395.94 L456.09 381.19 L474.02 374.42 L491.95 394.17 L509.88 384.09 L527.81 389.74" fill="none" stroke="#111" stroke-width="1.2"/>
<path d="M402.3 382.48 L420.23 415.29 L438.16 405.86 L456.09 399 L474.02 401.83 L491.95 399.97 L509.88 412.55 L527.81 410.21" fill="none" stroke="#111" stroke-width="1.2"/>
<circle cx="402.3" cy="409.72" r="3.1" fill="none" stroke="#f0793a" stroke-width="1.25"/>
<circle cx="420.23" cy="400.78" r="3.1" fill="none" stroke="#f0793a" stroke-width="1.25"/>
<circle cx="438.16" cy="395.94" r="3.1" fill="none" stroke="#f0793a" stroke-width="1.25"/>
<circle cx="456.09" cy="381.19" r="3.1" fill="none" stroke="#f0793a" stroke-width="1.25"/>
<circle cx="474.02" cy="374.42" r="3.1" fill="none" stroke="#f0793a" stroke-width="1.25"/>
<circle cx="491.95" cy="394.17" r="3.1" fill="none" stroke="#f0793a" stroke-width="1.25"/>
<circle cx="509.88" cy="384.09" r="3.1" fill="none" stroke="#f0793a" stroke-width="1.25"/>
<circle cx="527.81" cy="389.74" r="3.1" fill="none" stroke="#f0793a" stroke-width="1.25"/>
<circle cx="402.3" cy="382.48" r="3.1" fill="none" stroke="#3aa23a" stroke-width="1.25"/>
<circle cx="420.23" cy="415.29" r="3.1" fill="none" stroke="#3aa23a" stroke-width="1.25"/>
<circle cx="438.16" cy="405.86" r="3.1" fill="none" stroke="#3aa23a" stroke-width="1.25"/>
<circle cx="456.09" cy="399" r="3.1" fill="none" stroke="#3aa23a" stroke-width="1.25"/>
<circle cx="474.02" cy="401.83" r="3.1" fill="none" stroke="#3aa23a" stroke-width="1.25"/>
<circle cx="491.95" cy="399.97" r="3.1" fill="none" stroke="#3aa23a" stroke-width="1.25"/>
<circle cx="509.88" cy="412.55" r="3.1" fill="none" stroke="#3aa23a" stroke-width="1.25"/>
<circle cx="527.81" cy="410.21" r="3.1" fill="none" stroke="#3aa23a" stroke-width="1.25"/>
<line x1="398.6" y1="308.9" x2="408" y2="308.9" stroke="#111" stroke-width="1.1"/>
<circle cx="403.3" cy="308.9" r="3.1" fill="none" stroke="#f0793a" stroke-width="1.25"/>
<text x="415" y="312.7" font-size="10.2" fill="#111">3.9% ITGA6<tspan dy="-3.6" font-size="6">+</tspan></text>
<line x1="398.6" y1="319.5" x2="408" y2="319.5" stroke="#111" stroke-width="1.1"/>
<circle cx="403.3" cy="319.5" r="3.1" fill="none" stroke="#3aa23a" stroke-width="1.25"/>
<text x="415" y="323.3" font-size="10.2" fill="#111">49.7% ITGA6<tspan dy="-3.6" font-size="6">+</tspan></text>
<line x1="488.1" y1="307.9" x2="488.1" y2="322.6" stroke="#000" stroke-width="1.4"/>
<text x="491.2" y="309.6" font-size="10.25" font-weight="bold" fill="#000"><tspan font-style="italic">P</tspan> = 0.01</text>
<text x="490.3" y="323.3" font-size="13.5" font-weight="bold" fill="#000">*</text>
<line x1="587.9" y1="307.6" x2="587.9" y2="466.2" stroke="#3a3a3a" stroke-width="1.4"/>
<line x1="587.3" y1="465.5" x2="683.2" y2="465.5" stroke="#3a3a3a" stroke-width="1.4"/>
<line x1="584.9" y1="308.3" x2="587.9" y2="308.3" stroke="#3a3a3a" stroke-width="1.1"/>
<text x="584.4" y="312.4" font-size="11.4" text-anchor="end" fill="#111">40</text>
<line x1="584.9" y1="347.55" x2="587.9" y2="347.55" stroke="#3a3a3a" stroke-width="1.1"/>
<text x="584.4" y="351.65" font-size="11.4" text-anchor="end" fill="#111">30</text>
<line x1="584.9" y1="386.8" x2="587.9" y2="386.8" stroke="#3a3a3a" stroke-width="1.1"/>
<text x="584.4" y="390.9" font-size="11.4" text-anchor="end" fill="#111">20</text>
<line x1="584.9" y1="426.05" x2="587.9" y2="426.05" stroke="#3a3a3a" stroke-width="1.1"/>
<text x="584.4" y="430.15" font-size="11.4" text-anchor="end" fill="#111">10</text>
<line x1="584.9" y1="465.3" x2="587.9" y2="465.3" stroke="#3a3a3a" stroke-width="1.1"/>
<text x="584.4" y="469.4" font-size="11.4" text-anchor="end" fill="#111">0</text>
<rect x="601.5" y="426.05" width="27.4" height="39.45" fill="#fff" stroke="#111" stroke-width="1.5"/>
<rect x="642.6" y="390.73" width="27.4" height="74.77" fill="#fff" stroke="#111" stroke-width="1.5"/>
<line x1="615.2" y1="398.18" x2="615.2" y2="454.7" stroke="#111" stroke-width="1.3"/>
<line x1="608.6" y1="398.18" x2="621.8" y2="398.18" stroke="#111" stroke-width="1.3"/>
<line x1="608.6" y1="454.7" x2="621.8" y2="454.7" stroke="#111" stroke-width="1.3"/>
<line x1="656.3" y1="365.21" x2="656.3" y2="417.42" stroke="#111" stroke-width="1.3"/>
<line x1="649.7" y1="365.21" x2="662.9" y2="365.21" stroke="#111" stroke-width="1.3"/>
<line x1="649.7" y1="417.42" x2="662.9" y2="417.42" stroke="#111" stroke-width="1.3"/>
<line x1="615.2" y1="465.5" x2="615.2" y2="469" stroke="#3a3a3a" stroke-width="1.1"/>
<text x="618.8" y="477.2" font-size="10.9" text-anchor="end" fill="#111" transform="rotate(-45 618.8 477.2)">3.9%</text>
<line x1="656.3" y1="465.5" x2="656.3" y2="469" stroke="#3a3a3a" stroke-width="1.1"/>
<text x="659.9" y="477.2" font-size="10.9" text-anchor="end" fill="#111" transform="rotate(-45 659.9 477.2)">49.7%</text>
<circle cx="615.2" cy="392.3" r="2.6" fill="none" stroke="#f0793a" stroke-width="1.25"/>
<circle cx="615.2" cy="406.03" r="2.6" fill="none" stroke="#f0793a" stroke-width="1.25"/>
<circle cx="615.2" cy="426.05" r="2.6" fill="none" stroke="#f0793a" stroke-width="1.25"/>
<circle cx="619.8" cy="450.78" r="2.6" fill="none" stroke="#f0793a" stroke-width="1.25"/>
<circle cx="610.6" cy="458.63" r="2.6" fill="none" stroke="#f0793a" stroke-width="1.25"/>
<circle cx="656.3" cy="345.59" r="2.6" fill="none" stroke="#3aa23a" stroke-width="1.25"/>
<circle cx="656.3" cy="356.58" r="2.6" fill="none" stroke="#3aa23a" stroke-width="1.25"/>
<circle cx="660.8" cy="391.9" r="2.6" fill="none" stroke="#3aa23a" stroke-width="1.25"/>
<circle cx="647.1" cy="397" r="2.6" fill="none" stroke="#3aa23a" stroke-width="1.25"/>
<circle cx="652.4" cy="406.03" r="2.6" fill="none" stroke="#3aa23a" stroke-width="1.25"/>
<circle cx="665" cy="406.43" r="2.6" fill="none" stroke="#3aa23a" stroke-width="1.25"/>
<circle cx="660.4" cy="410.74" r="2.6" fill="none" stroke="#3aa23a" stroke-width="1.25"/>
<circle cx="651.7" cy="415.85" r="2.6" fill="none" stroke="#3aa23a" stroke-width="1.25"/>
<line x1="614.3" y1="328.5" x2="655.1" y2="328.5" stroke="#333" stroke-width="1.3"/>
<line x1="614.3" y1="324" x2="614.3" y2="332.7" stroke="#333" stroke-width="1.3"/>
<line x1="655.1" y1="324" x2="655.1" y2="332.7" stroke="#333" stroke-width="1.3"/>
<text x="613" y="314.2" font-size="10.3" font-weight="bold" fill="#000"><tspan font-style="italic">P</tspan> = 0.04</text>
<text x="633.7" y="330" font-size="15" font-weight="bold" text-anchor="middle" fill="#000">*</text>
<text x="565.6" y="385.8" font-size="12.2" text-anchor="middle" fill="#111" transform="rotate(-90 565.6 385.8)">C<tspan dy="2.8" font-size="7.5">r</tspan><tspan dy="-2.8"> (nl/min/mmHg)</tspan></text></svg></body></html>
